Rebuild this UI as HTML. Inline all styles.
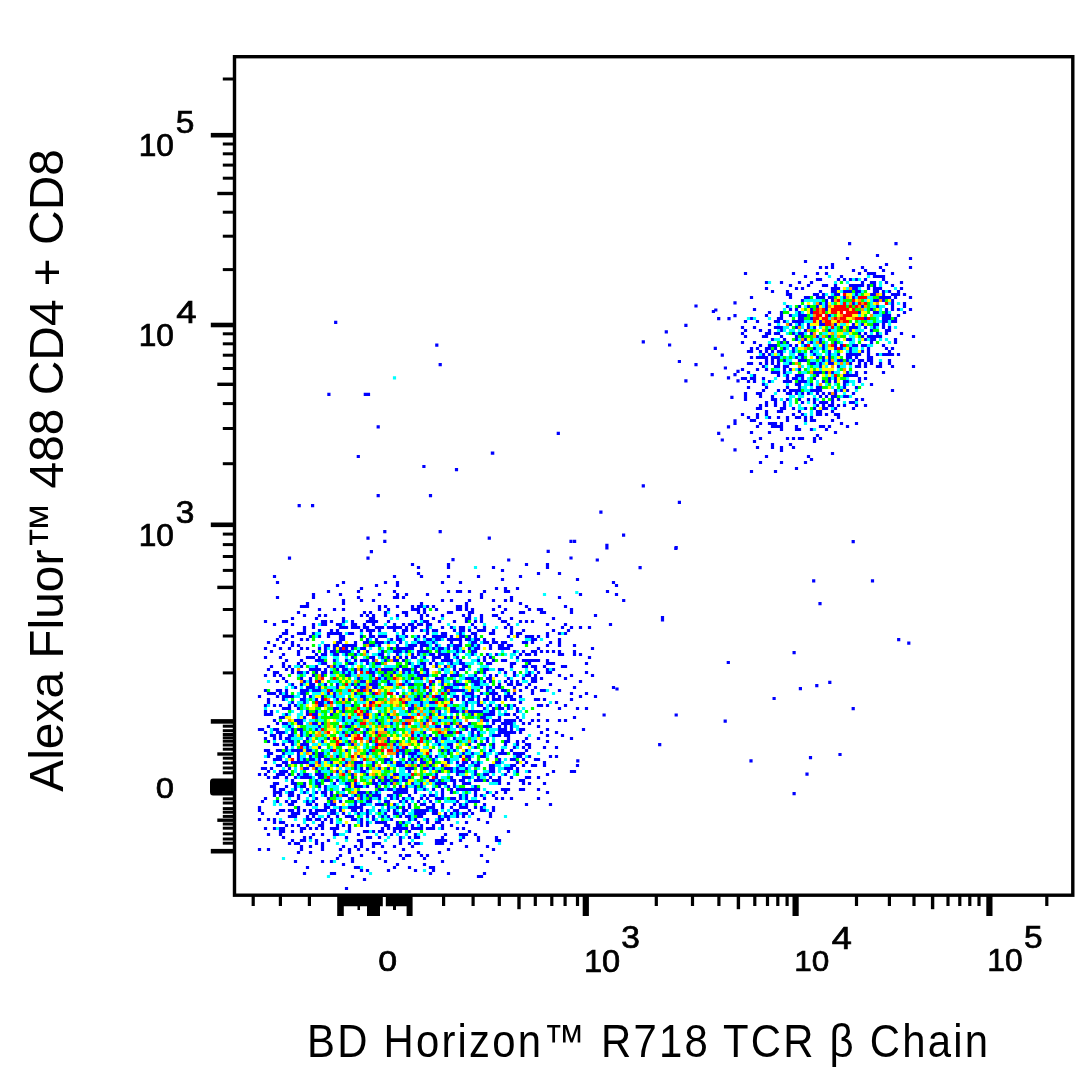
<!DOCTYPE html>
<html><head><meta charset="utf-8"><title>Flow cytometry plot</title>
<style>html,body{margin:0;padding:0;background:#fff;width:1086px;height:1086px;overflow:hidden}svg{display:block}</style>
</head><body>
<svg width="1086" height="1086" viewBox="0 0 1086 1086" font-family="Liberation Sans, Arial, Helvetica, sans-serif" fill="#000">
<g>
<path d="M875.9 255.5h3.2M845.9 258.5h3.2M908.9 258.5h3.2M803.9 261.5h3.2M830.9 264.5h3.2M884.9 264.5h3.2M818.9 267.5h3.2M824.9 267.5h3.2M830.9 267.5h3.2M860.9 267.5h3.2M878.9 267.5h3.2M908.9 267.5h3.2M851.9 270.5h3.2M863.9 270.5h3.2M881.9 270.5h3.2M743.9 273.5h3.2M791.9 273.5h3.2M815.9 273.5h3.2M824.9 273.5h3.2M857.9 273.5h3.2M866.9 273.5h3.2M869.9 273.5h3.2M872.9 273.5h3.2M890.9 273.5h3.2M803.9 276.5h3.2M839.9 276.5h3.2M872.9 276.5h3.2M875.9 276.5h3.2M878.9 276.5h3.2M881.9 276.5h3.2M815.9 279.5h3.2M818.9 279.5h3.2M836.9 279.5h3.2M842.9 279.5h3.2M848.9 279.5h3.2M854.9 279.5h3.2M863.9 279.5h3.2M881.9 279.5h3.2M764.9 282.5h3.2M779.9 282.5h3.2M797.9 282.5h3.2M809.9 282.5h3.2M860.9 282.5h3.2M869.9 282.5h3.2M872.9 282.5h3.2M884.9 282.5h3.2M899.9 282.5h3.2M788.9 285.5h3.2M806.9 285.5h3.2M821.9 285.5h3.2M824.9 285.5h3.2M833.9 285.5h3.2M848.9 285.5h3.2M851.9 285.5h3.2M854.9 285.5h3.2M857.9 285.5h3.2M860.9 285.5h3.2M866.9 285.5h3.2M872.9 285.5h3.2M890.9 285.5h3.2M764.9 288.5h3.2M794.9 288.5h3.2M800.9 288.5h3.2M830.9 288.5h3.2M833.9 288.5h3.2M836.9 288.5h3.2M851.9 288.5h3.2M854.9 288.5h3.2M866.9 288.5h3.2M872.9 288.5h3.2M875.9 288.5h3.2M878.9 288.5h3.2M899.9 288.5h3.2M770.9 291.5h3.2M785.9 291.5h3.2M818.9 291.5h3.2M830.9 291.5h3.2M833.9 291.5h3.2M842.9 291.5h3.2M845.9 291.5h3.2M848.9 291.5h3.2M854.9 291.5h3.2M857.9 291.5h3.2M872.9 291.5h3.2M875.9 291.5h3.2M881.9 291.5h3.2M887.9 291.5h3.2M896.9 291.5h3.2M785.9 294.5h3.2M788.9 294.5h3.2M812.9 294.5h3.2M815.9 294.5h3.2M821.9 294.5h3.2M833.9 294.5h3.2M836.9 294.5h3.2M854.9 294.5h3.2M869.9 294.5h3.2M872.9 294.5h3.2M881.9 294.5h3.2M890.9 294.5h3.2M893.9 294.5h3.2M896.9 294.5h3.2M902.9 294.5h3.2M749.9 297.5h3.2M788.9 297.5h3.2M803.9 297.5h3.2M806.9 297.5h3.2M815.9 297.5h3.2M818.9 297.5h3.2M821.9 297.5h3.2M827.9 297.5h3.2M830.9 297.5h3.2M842.9 297.5h3.2M851.9 297.5h3.2M878.9 297.5h3.2M881.9 297.5h3.2M884.9 297.5h3.2M887.9 297.5h3.2M893.9 297.5h3.2M908.9 297.5h3.2M800.9 300.5h3.2M824.9 300.5h3.2M830.9 300.5h3.2M872.9 300.5h3.2M875.9 300.5h3.2M881.9 300.5h3.2M890.9 300.5h3.2M818.9 303.5h3.2M824.9 303.5h3.2M851.9 303.5h3.2M890.9 303.5h3.2M902.9 303.5h3.2M785.9 306.5h3.2M797.9 306.5h3.2M806.9 306.5h3.2M815.9 306.5h3.2M824.9 306.5h3.2M860.9 306.5h3.2M875.9 306.5h3.2M890.9 306.5h3.2M902.9 306.5h3.2M752.9 309.5h3.2M788.9 309.5h3.2M794.9 309.5h3.2M809.9 309.5h3.2M824.9 309.5h3.2M869.9 309.5h3.2M884.9 309.5h3.2M890.9 309.5h3.2M896.9 309.5h3.2M908.9 309.5h3.2M767.9 312.5h3.2M779.9 312.5h3.2M797.9 312.5h3.2M809.9 312.5h3.2M857.9 312.5h3.2M872.9 312.5h3.2M875.9 312.5h3.2M884.9 312.5h3.2M902.9 312.5h3.2M764.9 315.5h3.2M779.9 315.5h3.2M788.9 315.5h3.2M797.9 315.5h3.2M800.9 315.5h3.2M803.9 315.5h3.2M827.9 315.5h3.2M881.9 315.5h3.2M884.9 315.5h3.2M887.9 315.5h3.2M896.9 315.5h3.2M749.9 318.5h3.2M776.9 318.5h3.2M779.9 318.5h3.2M797.9 318.5h3.2M800.9 318.5h3.2M809.9 318.5h3.2M863.9 318.5h3.2M881.9 318.5h3.2M884.9 318.5h3.2M887.9 318.5h3.2M893.9 318.5h3.2M743.9 321.5h3.2M755.9 321.5h3.2M773.9 321.5h3.2M776.9 321.5h3.2M782.9 321.5h3.2M791.9 321.5h3.2M794.9 321.5h3.2M797.9 321.5h3.2M800.9 321.5h3.2M818.9 321.5h3.2M881.9 321.5h3.2M884.9 321.5h3.2M890.9 321.5h3.2M893.9 321.5h3.2M767.9 324.5h3.2M788.9 324.5h3.2M797.9 324.5h3.2M806.9 324.5h3.2M818.9 324.5h3.2M821.9 324.5h3.2M833.9 324.5h3.2M851.9 324.5h3.2M860.9 324.5h3.2M872.9 324.5h3.2M875.9 324.5h3.2M881.9 324.5h3.2M740.9 327.5h3.2M752.9 327.5h3.2M773.9 327.5h3.2M776.9 327.5h3.2M779.9 327.5h3.2M794.9 327.5h3.2M806.9 327.5h3.2M812.9 327.5h3.2M839.9 327.5h3.2M848.9 327.5h3.2M851.9 327.5h3.2M854.9 327.5h3.2M863.9 327.5h3.2M872.9 327.5h3.2M881.9 327.5h3.2M887.9 327.5h3.2M743.9 330.5h3.2M758.9 330.5h3.2M767.9 330.5h3.2M779.9 330.5h3.2M803.9 330.5h3.2M827.9 330.5h3.2M848.9 330.5h3.2M869.9 330.5h3.2M884.9 330.5h3.2M887.9 330.5h3.2M740.9 333.5h3.2M764.9 333.5h3.2M767.9 333.5h3.2M773.9 333.5h3.2M776.9 333.5h3.2M791.9 333.5h3.2M797.9 333.5h3.2M800.9 333.5h3.2M809.9 333.5h3.2M857.9 333.5h3.2M863.9 333.5h3.2M875.9 333.5h3.2M884.9 333.5h3.2M899.9 333.5h3.2M743.9 336.5h3.2M761.9 336.5h3.2M764.9 336.5h3.2M779.9 336.5h3.2M794.9 336.5h3.2M800.9 336.5h3.2M815.9 336.5h3.2M827.9 336.5h3.2M860.9 336.5h3.2M866.9 336.5h3.2M869.9 336.5h3.2M872.9 336.5h3.2M875.9 336.5h3.2M878.9 336.5h3.2M911.9 336.5h3.2M770.9 339.5h3.2M782.9 339.5h3.2M794.9 339.5h3.2M803.9 339.5h3.2M818.9 339.5h3.2M845.9 339.5h3.2M848.9 339.5h3.2M863.9 339.5h3.2M869.9 339.5h3.2M872.9 339.5h3.2M893.9 339.5h3.2M740.9 342.5h3.2M752.9 342.5h3.2M779.9 342.5h3.2M785.9 342.5h3.2M800.9 342.5h3.2M809.9 342.5h3.2M818.9 342.5h3.2M833.9 342.5h3.2M869.9 342.5h3.2M893.9 342.5h3.2M758.9 345.5h3.2M767.9 345.5h3.2M770.9 345.5h3.2M773.9 345.5h3.2M788.9 345.5h3.2M794.9 345.5h3.2M803.9 345.5h3.2M821.9 345.5h3.2M833.9 345.5h3.2M839.9 345.5h3.2M851.9 345.5h3.2M854.9 345.5h3.2M860.9 345.5h3.2M863.9 345.5h3.2M881.9 345.5h3.2M749.9 348.5h3.2M755.9 348.5h3.2M764.9 348.5h3.2M767.9 348.5h3.2M773.9 348.5h3.2M782.9 348.5h3.2M791.9 348.5h3.2M812.9 348.5h3.2M821.9 348.5h3.2M833.9 348.5h3.2M839.9 348.5h3.2M848.9 348.5h3.2M866.9 348.5h3.2M884.9 348.5h3.2M890.9 348.5h3.2M746.9 351.5h3.2M749.9 351.5h3.2M758.9 351.5h3.2M764.9 351.5h3.2M770.9 351.5h3.2M776.9 351.5h3.2M779.9 351.5h3.2M791.9 351.5h3.2M809.9 351.5h3.2M827.9 351.5h3.2M848.9 351.5h3.2M860.9 351.5h3.2M866.9 351.5h3.2M887.9 351.5h3.2M761.9 354.5h3.2M767.9 354.5h3.2M779.9 354.5h3.2M797.9 354.5h3.2M800.9 354.5h3.2M812.9 354.5h3.2M827.9 354.5h3.2M836.9 354.5h3.2M845.9 354.5h3.2M848.9 354.5h3.2M851.9 354.5h3.2M854.9 354.5h3.2M857.9 354.5h3.2M866.9 354.5h3.2M875.9 354.5h3.2M881.9 354.5h3.2M884.9 354.5h3.2M887.9 354.5h3.2M890.9 354.5h3.2M896.9 354.5h3.2M749.9 357.5h3.2M755.9 357.5h3.2M758.9 357.5h3.2M761.9 357.5h3.2M764.9 357.5h3.2M770.9 357.5h3.2M773.9 357.5h3.2M776.9 357.5h3.2M794.9 357.5h3.2M800.9 357.5h3.2M815.9 357.5h3.2M821.9 357.5h3.2M827.9 357.5h3.2M845.9 357.5h3.2M848.9 357.5h3.2M854.9 357.5h3.2M866.9 357.5h3.2M869.9 357.5h3.2M764.9 360.5h3.2M770.9 360.5h3.2M776.9 360.5h3.2M782.9 360.5h3.2M797.9 360.5h3.2M800.9 360.5h3.2M803.9 360.5h3.2M821.9 360.5h3.2M827.9 360.5h3.2M836.9 360.5h3.2M839.9 360.5h3.2M845.9 360.5h3.2M851.9 360.5h3.2M857.9 360.5h3.2M860.9 360.5h3.2M866.9 360.5h3.2M869.9 360.5h3.2M887.9 360.5h3.2M746.9 363.5h3.2M749.9 363.5h3.2M758.9 363.5h3.2M764.9 363.5h3.2M770.9 363.5h3.2M776.9 363.5h3.2M788.9 363.5h3.2M809.9 363.5h3.2M812.9 363.5h3.2M818.9 363.5h3.2M827.9 363.5h3.2M830.9 363.5h3.2M848.9 363.5h3.2M857.9 363.5h3.2M863.9 363.5h3.2M869.9 363.5h3.2M878.9 363.5h3.2M887.9 363.5h3.2M761.9 366.5h3.2M773.9 366.5h3.2M776.9 366.5h3.2M782.9 366.5h3.2M785.9 366.5h3.2M818.9 366.5h3.2M836.9 366.5h3.2M854.9 366.5h3.2M857.9 366.5h3.2M863.9 366.5h3.2M875.9 366.5h3.2M878.9 366.5h3.2M890.9 366.5h3.2M911.9 366.5h3.2M740.9 369.5h3.2M755.9 369.5h3.2M764.9 369.5h3.2M782.9 369.5h3.2M788.9 369.5h3.2M797.9 369.5h3.2M746.9 372.5h3.2M770.9 372.5h3.2M773.9 372.5h3.2M776.9 372.5h3.2M782.9 372.5h3.2M812.9 372.5h3.2M815.9 372.5h3.2M818.9 372.5h3.2M824.9 372.5h3.2M830.9 372.5h3.2M845.9 372.5h3.2M854.9 372.5h3.2M863.9 372.5h3.2M881.9 372.5h3.2M752.9 375.5h3.2M776.9 375.5h3.2M785.9 375.5h3.2M794.9 375.5h3.2M797.9 375.5h3.2M800.9 375.5h3.2M815.9 375.5h3.2M842.9 375.5h3.2M845.9 375.5h3.2M848.9 375.5h3.2M851.9 375.5h3.2M854.9 375.5h3.2M740.9 378.5h3.2M743.9 378.5h3.2M749.9 378.5h3.2M752.9 378.5h3.2M761.9 378.5h3.2M785.9 378.5h3.2M791.9 378.5h3.2M794.9 378.5h3.2M800.9 378.5h3.2M812.9 378.5h3.2M827.9 378.5h3.2M833.9 378.5h3.2M857.9 378.5h3.2M863.9 378.5h3.2M746.9 381.5h3.2M752.9 381.5h3.2M767.9 381.5h3.2M782.9 381.5h3.2M785.9 381.5h3.2M788.9 381.5h3.2M797.9 381.5h3.2M800.9 381.5h3.2M803.9 381.5h3.2M821.9 381.5h3.2M827.9 381.5h3.2M833.9 381.5h3.2M842.9 381.5h3.2M845.9 381.5h3.2M857.9 381.5h3.2M761.9 384.5h3.2M794.9 384.5h3.2M797.9 384.5h3.2M809.9 384.5h3.2M842.9 384.5h3.2M869.9 384.5h3.2M746.9 387.5h3.2M764.9 387.5h3.2M785.9 387.5h3.2M797.9 387.5h3.2M815.9 387.5h3.2M818.9 387.5h3.2M842.9 387.5h3.2M854.9 387.5h3.2M761.9 390.5h3.2M776.9 390.5h3.2M782.9 390.5h3.2M788.9 390.5h3.2M791.9 390.5h3.2M794.9 390.5h3.2M797.9 390.5h3.2M809.9 390.5h3.2M812.9 390.5h3.2M815.9 390.5h3.2M818.9 390.5h3.2M833.9 390.5h3.2M839.9 390.5h3.2M845.9 390.5h3.2M890.9 390.5h3.2M743.9 393.5h3.2M755.9 393.5h3.2M758.9 393.5h3.2M785.9 393.5h3.2M788.9 393.5h3.2M794.9 393.5h3.2M800.9 393.5h3.2M806.9 393.5h3.2M815.9 393.5h3.2M821.9 393.5h3.2M827.9 393.5h3.2M833.9 393.5h3.2M851.9 393.5h3.2M743.9 396.5h3.2M758.9 396.5h3.2M770.9 396.5h3.2M818.9 396.5h3.2M824.9 396.5h3.2M830.9 396.5h3.2M833.9 396.5h3.2M842.9 396.5h3.2M845.9 396.5h3.2M743.9 399.5h3.2M770.9 399.5h3.2M773.9 399.5h3.2M785.9 399.5h3.2M797.9 399.5h3.2M806.9 399.5h3.2M812.9 399.5h3.2M830.9 399.5h3.2M836.9 399.5h3.2M854.9 399.5h3.2M860.9 399.5h3.2M764.9 402.5h3.2M773.9 402.5h3.2M782.9 402.5h3.2M800.9 402.5h3.2M812.9 402.5h3.2M818.9 402.5h3.2M821.9 402.5h3.2M824.9 402.5h3.2M830.9 402.5h3.2M848.9 402.5h3.2M851.9 402.5h3.2M758.9 405.5h3.2M764.9 405.5h3.2M773.9 405.5h3.2M782.9 405.5h3.2M815.9 405.5h3.2M821.9 405.5h3.2M827.9 405.5h3.2M830.9 405.5h3.2M836.9 405.5h3.2M842.9 405.5h3.2M854.9 405.5h3.2M863.9 405.5h3.2M755.9 408.5h3.2M758.9 408.5h3.2M779.9 408.5h3.2M782.9 408.5h3.2M791.9 408.5h3.2M803.9 408.5h3.2M812.9 408.5h3.2M821.9 408.5h3.2M824.9 408.5h3.2M833.9 408.5h3.2M851.9 408.5h3.2M764.9 411.5h3.2M776.9 411.5h3.2M779.9 411.5h3.2M797.9 411.5h3.2M815.9 411.5h3.2M818.9 411.5h3.2M830.9 411.5h3.2M740.9 414.5h3.2M755.9 414.5h3.2M764.9 414.5h3.2M791.9 414.5h3.2M800.9 414.5h3.2M815.9 414.5h3.2M818.9 414.5h3.2M824.9 414.5h3.2M833.9 414.5h3.2M836.9 414.5h3.2M746.9 417.5h3.2M755.9 417.5h3.2M767.9 417.5h3.2M776.9 417.5h3.2M785.9 417.5h3.2M794.9 417.5h3.2M797.9 417.5h3.2M803.9 417.5h3.2M809.9 417.5h3.2M836.9 417.5h3.2M749.9 420.5h3.2M752.9 420.5h3.2M785.9 420.5h3.2M803.9 420.5h3.2M809.9 420.5h3.2M812.9 420.5h3.2M830.9 420.5h3.2M758.9 423.5h3.2M767.9 423.5h3.2M770.9 423.5h3.2M773.9 423.5h3.2M779.9 423.5h3.2M839.9 423.5h3.2M854.9 423.5h3.2M755.9 426.5h3.2M770.9 426.5h3.2M773.9 426.5h3.2M776.9 426.5h3.2M779.9 426.5h3.2M794.9 426.5h3.2M818.9 426.5h3.2M821.9 426.5h3.2M827.9 426.5h3.2M845.9 426.5h3.2M779.9 429.5h3.2M794.9 429.5h3.2M797.9 429.5h3.2M809.9 429.5h3.2M824.9 429.5h3.2M749.9 432.5h3.2M767.9 432.5h3.2M833.9 432.5h3.2M815.9 435.5h3.2M758.9 438.5h3.2M785.9 438.5h3.2M791.9 438.5h3.2M797.9 438.5h3.2M800.9 438.5h3.2M812.9 438.5h3.2M818.9 438.5h3.2M752.9 441.5h3.2M812.9 441.5h3.2M770.9 444.5h3.2M788.9 444.5h3.2M755.9 447.5h3.2M770.9 447.5h3.2M779.9 447.5h3.2M791.9 447.5h3.2M779.9 450.5h3.2M830.9 453.5h3.2M764.9 456.5h3.2M806.9 456.5h3.2M809.9 459.5h3.2M758.9 462.5h3.2M779.9 462.5h3.2M803.9 462.5h3.2M794.9 468.5h3.2M749.9 471.5h3.2M773.9 471.5h3.2M410.9 564.5h3.2M446.9 564.5h3.2M524.9 564.5h3.2M545.9 564.5h3.2M416.9 567.5h3.2M446.9 567.5h3.2M491.9 567.5h3.2M545.9 567.5h3.2M500.9 570.5h3.2M416.9 573.5h3.2M536.9 573.5h3.2M557.9 573.5h3.2M272.9 576.5h3.2M392.9 576.5h3.2M419.9 576.5h3.2M446.9 576.5h3.2M476.9 576.5h3.2M518.9 576.5h3.2M500.9 579.5h3.2M575.9 579.5h3.2M275.9 582.5h3.2M341.9 582.5h3.2M383.9 582.5h3.2M395.9 582.5h3.2M440.9 582.5h3.2M458.9 582.5h3.2M611.9 582.5h3.2M335.9 585.5h3.2M374.9 585.5h3.2M395.9 585.5h3.2M614.9 585.5h3.2M359.9 588.5h3.2M494.9 588.5h3.2M503.9 588.5h3.2M515.9 588.5h3.2M326.9 591.5h3.2M356.9 591.5h3.2M392.9 591.5h3.2M446.9 591.5h3.2M455.9 591.5h3.2M458.9 591.5h3.2M467.9 591.5h3.2M482.9 591.5h3.2M503.9 591.5h3.2M506.9 591.5h3.2M605.9 591.5h3.2M311.9 594.5h3.2M338.9 594.5h3.2M377.9 594.5h3.2M395.9 594.5h3.2M404.9 594.5h3.2M425.9 594.5h3.2M479.9 594.5h3.2M578.9 594.5h3.2M614.9 594.5h3.2M275.9 597.5h3.2M311.9 597.5h3.2M356.9 597.5h3.2M392.9 597.5h3.2M395.9 597.5h3.2M401.9 597.5h3.2M479.9 597.5h3.2M509.9 597.5h3.2M557.9 597.5h3.2M341.9 600.5h3.2M359.9 600.5h3.2M371.9 600.5h3.2M440.9 600.5h3.2M449.9 600.5h3.2M467.9 600.5h3.2M491.9 600.5h3.2M503.9 600.5h3.2M509.9 600.5h3.2M305.9 603.5h3.2M341.9 603.5h3.2M419.9 603.5h3.2M464.9 603.5h3.2M518.9 603.5h3.2M299.9 606.5h3.2M302.9 606.5h3.2M305.9 606.5h3.2M377.9 606.5h3.2M383.9 606.5h3.2M395.9 606.5h3.2M410.9 606.5h3.2M416.9 606.5h3.2M419.9 606.5h3.2M425.9 606.5h3.2M431.9 606.5h3.2M455.9 606.5h3.2M458.9 606.5h3.2M464.9 606.5h3.2M497.9 606.5h3.2M524.9 606.5h3.2M563.9 606.5h3.2M317.9 609.5h3.2M332.9 609.5h3.2M341.9 609.5h3.2M377.9 609.5h3.2M386.9 609.5h3.2M410.9 609.5h3.2M413.9 609.5h3.2M416.9 609.5h3.2M422.9 609.5h3.2M434.9 609.5h3.2M455.9 609.5h3.2M458.9 609.5h3.2M464.9 609.5h3.2M470.9 609.5h3.2M491.9 609.5h3.2M503.9 609.5h3.2M527.9 609.5h3.2M536.9 609.5h3.2M539.9 609.5h3.2M569.9 609.5h3.2M296.9 612.5h3.2M362.9 612.5h3.2M368.9 612.5h3.2M383.9 612.5h3.2M401.9 612.5h3.2M404.9 612.5h3.2M416.9 612.5h3.2M422.9 612.5h3.2M446.9 612.5h3.2M449.9 612.5h3.2M467.9 612.5h3.2M470.9 612.5h3.2M500.9 612.5h3.2M518.9 612.5h3.2M521.9 612.5h3.2M539.9 612.5h3.2M542.9 612.5h3.2M569.9 612.5h3.2M302.9 615.5h3.2M317.9 615.5h3.2M323.9 615.5h3.2M359.9 615.5h3.2M365.9 615.5h3.2M371.9 615.5h3.2M383.9 615.5h3.2M395.9 615.5h3.2M404.9 615.5h3.2M419.9 615.5h3.2M425.9 615.5h3.2M440.9 615.5h3.2M461.9 615.5h3.2M467.9 615.5h3.2M479.9 615.5h3.2M491.9 615.5h3.2M494.9 615.5h3.2M593.9 615.5h3.2M290.9 618.5h3.2M314.9 618.5h3.2M341.9 618.5h3.2M368.9 618.5h3.2M371.9 618.5h3.2M419.9 618.5h3.2M431.9 618.5h3.2M464.9 618.5h3.2M467.9 618.5h3.2M479.9 618.5h3.2M497.9 618.5h3.2M509.9 618.5h3.2M551.9 618.5h3.2M263.9 621.5h3.2M281.9 621.5h3.2M284.9 621.5h3.2M320.9 621.5h3.2M323.9 621.5h3.2M329.9 621.5h3.2M341.9 621.5h3.2M350.9 621.5h3.2M365.9 621.5h3.2M368.9 621.5h3.2M371.9 621.5h3.2M374.9 621.5h3.2M386.9 621.5h3.2M413.9 621.5h3.2M422.9 621.5h3.2M425.9 621.5h3.2M437.9 621.5h3.2M452.9 621.5h3.2M464.9 621.5h3.2M473.9 621.5h3.2M479.9 621.5h3.2M500.9 621.5h3.2M503.9 621.5h3.2M518.9 621.5h3.2M524.9 621.5h3.2M530.9 621.5h3.2M272.9 624.5h3.2M290.9 624.5h3.2M311.9 624.5h3.2M320.9 624.5h3.2M323.9 624.5h3.2M335.9 624.5h3.2M338.9 624.5h3.2M350.9 624.5h3.2M353.9 624.5h3.2M362.9 624.5h3.2M371.9 624.5h3.2M392.9 624.5h3.2M401.9 624.5h3.2M407.9 624.5h3.2M410.9 624.5h3.2M416.9 624.5h3.2M419.9 624.5h3.2M425.9 624.5h3.2M428.9 624.5h3.2M470.9 624.5h3.2M506.9 624.5h3.2M545.9 624.5h3.2M563.9 624.5h3.2M608.9 624.5h3.2M302.9 627.5h3.2M311.9 627.5h3.2M338.9 627.5h3.2M341.9 627.5h3.2M344.9 627.5h3.2M350.9 627.5h3.2M353.9 627.5h3.2M356.9 627.5h3.2M362.9 627.5h3.2M365.9 627.5h3.2M374.9 627.5h3.2M377.9 627.5h3.2M380.9 627.5h3.2M386.9 627.5h3.2M389.9 627.5h3.2M392.9 627.5h3.2M395.9 627.5h3.2M398.9 627.5h3.2M404.9 627.5h3.2M410.9 627.5h3.2M413.9 627.5h3.2M425.9 627.5h3.2M440.9 627.5h3.2M449.9 627.5h3.2M458.9 627.5h3.2M461.9 627.5h3.2M473.9 627.5h3.2M482.9 627.5h3.2M503.9 627.5h3.2M509.9 627.5h3.2M560.9 627.5h3.2M569.9 627.5h3.2M578.9 627.5h3.2M587.9 627.5h3.2M284.9 630.5h3.2M302.9 630.5h3.2M317.9 630.5h3.2M329.9 630.5h3.2M335.9 630.5h3.2M359.9 630.5h3.2M365.9 630.5h3.2M368.9 630.5h3.2M371.9 630.5h3.2M377.9 630.5h3.2M392.9 630.5h3.2M401.9 630.5h3.2M404.9 630.5h3.2M410.9 630.5h3.2M419.9 630.5h3.2M425.9 630.5h3.2M431.9 630.5h3.2M434.9 630.5h3.2M452.9 630.5h3.2M458.9 630.5h3.2M461.9 630.5h3.2M467.9 630.5h3.2M476.9 630.5h3.2M479.9 630.5h3.2M482.9 630.5h3.2M491.9 630.5h3.2M509.9 630.5h3.2M521.9 630.5h3.2M551.9 630.5h3.2M566.9 630.5h3.2M281.9 633.5h3.2M284.9 633.5h3.2M296.9 633.5h3.2M299.9 633.5h3.2M302.9 633.5h3.2M311.9 633.5h3.2M326.9 633.5h3.2M329.9 633.5h3.2M332.9 633.5h3.2M335.9 633.5h3.2M338.9 633.5h3.2M347.9 633.5h3.2M350.9 633.5h3.2M368.9 633.5h3.2M401.9 633.5h3.2M425.9 633.5h3.2M440.9 633.5h3.2M443.9 633.5h3.2M458.9 633.5h3.2M470.9 633.5h3.2M473.9 633.5h3.2M488.9 633.5h3.2M491.9 633.5h3.2M509.9 633.5h3.2M515.9 633.5h3.2M518.9 633.5h3.2M545.9 633.5h3.2M557.9 633.5h3.2M563.9 633.5h3.2M278.9 636.5h3.2M290.9 636.5h3.2M308.9 636.5h3.2M317.9 636.5h3.2M326.9 636.5h3.2M338.9 636.5h3.2M341.9 636.5h3.2M359.9 636.5h3.2M368.9 636.5h3.2M371.9 636.5h3.2M377.9 636.5h3.2M380.9 636.5h3.2M383.9 636.5h3.2M395.9 636.5h3.2M404.9 636.5h3.2M416.9 636.5h3.2M422.9 636.5h3.2M431.9 636.5h3.2M434.9 636.5h3.2M437.9 636.5h3.2M440.9 636.5h3.2M443.9 636.5h3.2M449.9 636.5h3.2M458.9 636.5h3.2M461.9 636.5h3.2M467.9 636.5h3.2M473.9 636.5h3.2M506.9 636.5h3.2M515.9 636.5h3.2M524.9 636.5h3.2M527.9 636.5h3.2M530.9 636.5h3.2M536.9 636.5h3.2M545.9 636.5h3.2M275.9 639.5h3.2M284.9 639.5h3.2M299.9 639.5h3.2M305.9 639.5h3.2M338.9 639.5h3.2M341.9 639.5h3.2M365.9 639.5h3.2M374.9 639.5h3.2M389.9 639.5h3.2M395.9 639.5h3.2M398.9 639.5h3.2M413.9 639.5h3.2M425.9 639.5h3.2M428.9 639.5h3.2M434.9 639.5h3.2M437.9 639.5h3.2M446.9 639.5h3.2M449.9 639.5h3.2M452.9 639.5h3.2M455.9 639.5h3.2M458.9 639.5h3.2M464.9 639.5h3.2M467.9 639.5h3.2M473.9 639.5h3.2M476.9 639.5h3.2M482.9 639.5h3.2M491.9 639.5h3.2M530.9 639.5h3.2M533.9 639.5h3.2M557.9 639.5h3.2M266.9 642.5h3.2M281.9 642.5h3.2M290.9 642.5h3.2M335.9 642.5h3.2M338.9 642.5h3.2M353.9 642.5h3.2M362.9 642.5h3.2M365.9 642.5h3.2M374.9 642.5h3.2M377.9 642.5h3.2M380.9 642.5h3.2M386.9 642.5h3.2M398.9 642.5h3.2M416.9 642.5h3.2M419.9 642.5h3.2M422.9 642.5h3.2M431.9 642.5h3.2M449.9 642.5h3.2M458.9 642.5h3.2M470.9 642.5h3.2M473.9 642.5h3.2M482.9 642.5h3.2M485.9 642.5h3.2M491.9 642.5h3.2M494.9 642.5h3.2M500.9 642.5h3.2M503.9 642.5h3.2M521.9 642.5h3.2M524.9 642.5h3.2M530.9 642.5h3.2M548.9 642.5h3.2M557.9 642.5h3.2M272.9 645.5h3.2M290.9 645.5h3.2M296.9 645.5h3.2M323.9 645.5h3.2M326.9 645.5h3.2M332.9 645.5h3.2M335.9 645.5h3.2M341.9 645.5h3.2M344.9 645.5h3.2M347.9 645.5h3.2M350.9 645.5h3.2M353.9 645.5h3.2M368.9 645.5h3.2M371.9 645.5h3.2M377.9 645.5h3.2M395.9 645.5h3.2M407.9 645.5h3.2M410.9 645.5h3.2M413.9 645.5h3.2M419.9 645.5h3.2M422.9 645.5h3.2M425.9 645.5h3.2M434.9 645.5h3.2M446.9 645.5h3.2M452.9 645.5h3.2M455.9 645.5h3.2M458.9 645.5h3.2M470.9 645.5h3.2M476.9 645.5h3.2M488.9 645.5h3.2M497.9 645.5h3.2M500.9 645.5h3.2M506.9 645.5h3.2M509.9 645.5h3.2M545.9 645.5h3.2M557.9 645.5h3.2M572.9 645.5h3.2M263.9 648.5h3.2M278.9 648.5h3.2M287.9 648.5h3.2M299.9 648.5h3.2M305.9 648.5h3.2M317.9 648.5h3.2M323.9 648.5h3.2M332.9 648.5h3.2M338.9 648.5h3.2M344.9 648.5h3.2M350.9 648.5h3.2M359.9 648.5h3.2M362.9 648.5h3.2M389.9 648.5h3.2M395.9 648.5h3.2M398.9 648.5h3.2M401.9 648.5h3.2M404.9 648.5h3.2M407.9 648.5h3.2M410.9 648.5h3.2M419.9 648.5h3.2M431.9 648.5h3.2M437.9 648.5h3.2M440.9 648.5h3.2M446.9 648.5h3.2M452.9 648.5h3.2M455.9 648.5h3.2M467.9 648.5h3.2M473.9 648.5h3.2M476.9 648.5h3.2M488.9 648.5h3.2M497.9 648.5h3.2M500.9 648.5h3.2M503.9 648.5h3.2M506.9 648.5h3.2M536.9 648.5h3.2M590.9 648.5h3.2M269.9 651.5h3.2M296.9 651.5h3.2M311.9 651.5h3.2M323.9 651.5h3.2M329.9 651.5h3.2M332.9 651.5h3.2M338.9 651.5h3.2M341.9 651.5h3.2M344.9 651.5h3.2M347.9 651.5h3.2M356.9 651.5h3.2M365.9 651.5h3.2M380.9 651.5h3.2M392.9 651.5h3.2M395.9 651.5h3.2M398.9 651.5h3.2M404.9 651.5h3.2M416.9 651.5h3.2M419.9 651.5h3.2M422.9 651.5h3.2M425.9 651.5h3.2M437.9 651.5h3.2M455.9 651.5h3.2M461.9 651.5h3.2M470.9 651.5h3.2M473.9 651.5h3.2M512.9 651.5h3.2M521.9 651.5h3.2M530.9 651.5h3.2M533.9 651.5h3.2M539.9 651.5h3.2M545.9 651.5h3.2M551.9 651.5h3.2M557.9 651.5h3.2M572.9 651.5h3.2M281.9 654.5h3.2M296.9 654.5h3.2M314.9 654.5h3.2M320.9 654.5h3.2M323.9 654.5h3.2M332.9 654.5h3.2M335.9 654.5h3.2M344.9 654.5h3.2M353.9 654.5h3.2M377.9 654.5h3.2M380.9 654.5h3.2M395.9 654.5h3.2M410.9 654.5h3.2M416.9 654.5h3.2M428.9 654.5h3.2M431.9 654.5h3.2M437.9 654.5h3.2M440.9 654.5h3.2M443.9 654.5h3.2M446.9 654.5h3.2M452.9 654.5h3.2M470.9 654.5h3.2M485.9 654.5h3.2M494.9 654.5h3.2M518.9 654.5h3.2M524.9 654.5h3.2M527.9 654.5h3.2M533.9 654.5h3.2M557.9 654.5h3.2M560.9 654.5h3.2M572.9 654.5h3.2M578.9 654.5h3.2M263.9 657.5h3.2M278.9 657.5h3.2M305.9 657.5h3.2M308.9 657.5h3.2M311.9 657.5h3.2M317.9 657.5h3.2M350.9 657.5h3.2M368.9 657.5h3.2M371.9 657.5h3.2M380.9 657.5h3.2M386.9 657.5h3.2M392.9 657.5h3.2M398.9 657.5h3.2M404.9 657.5h3.2M410.9 657.5h3.2M413.9 657.5h3.2M422.9 657.5h3.2M431.9 657.5h3.2M434.9 657.5h3.2M437.9 657.5h3.2M443.9 657.5h3.2M446.9 657.5h3.2M455.9 657.5h3.2M482.9 657.5h3.2M488.9 657.5h3.2M515.9 657.5h3.2M587.9 657.5h3.2M284.9 660.5h3.2M299.9 660.5h3.2M314.9 660.5h3.2M317.9 660.5h3.2M320.9 660.5h3.2M332.9 660.5h3.2M344.9 660.5h3.2M353.9 660.5h3.2M359.9 660.5h3.2M362.9 660.5h3.2M365.9 660.5h3.2M371.9 660.5h3.2M383.9 660.5h3.2M392.9 660.5h3.2M395.9 660.5h3.2M401.9 660.5h3.2M431.9 660.5h3.2M440.9 660.5h3.2M443.9 660.5h3.2M446.9 660.5h3.2M449.9 660.5h3.2M458.9 660.5h3.2M476.9 660.5h3.2M482.9 660.5h3.2M491.9 660.5h3.2M500.9 660.5h3.2M503.9 660.5h3.2M521.9 660.5h3.2M524.9 660.5h3.2M527.9 660.5h3.2M530.9 660.5h3.2M533.9 660.5h3.2M536.9 660.5h3.2M545.9 660.5h3.2M281.9 663.5h3.2M296.9 663.5h3.2M302.9 663.5h3.2M320.9 663.5h3.2M323.9 663.5h3.2M347.9 663.5h3.2M350.9 663.5h3.2M365.9 663.5h3.2M374.9 663.5h3.2M377.9 663.5h3.2M407.9 663.5h3.2M419.9 663.5h3.2M422.9 663.5h3.2M428.9 663.5h3.2M434.9 663.5h3.2M449.9 663.5h3.2M458.9 663.5h3.2M461.9 663.5h3.2M485.9 663.5h3.2M488.9 663.5h3.2M509.9 663.5h3.2M512.9 663.5h3.2M527.9 663.5h3.2M545.9 663.5h3.2M548.9 663.5h3.2M551.9 663.5h3.2M584.9 663.5h3.2M269.9 666.5h3.2M281.9 666.5h3.2M287.9 666.5h3.2M299.9 666.5h3.2M314.9 666.5h3.2M326.9 666.5h3.2M332.9 666.5h3.2M338.9 666.5h3.2M341.9 666.5h3.2M398.9 666.5h3.2M413.9 666.5h3.2M416.9 666.5h3.2M422.9 666.5h3.2M434.9 666.5h3.2M443.9 666.5h3.2M452.9 666.5h3.2M461.9 666.5h3.2M464.9 666.5h3.2M509.9 666.5h3.2M521.9 666.5h3.2M524.9 666.5h3.2M530.9 666.5h3.2M533.9 666.5h3.2M542.9 666.5h3.2M560.9 666.5h3.2M563.9 666.5h3.2M266.9 669.5h3.2M284.9 669.5h3.2M290.9 669.5h3.2M308.9 669.5h3.2M311.9 669.5h3.2M314.9 669.5h3.2M317.9 669.5h3.2M323.9 669.5h3.2M335.9 669.5h3.2M341.9 669.5h3.2M344.9 669.5h3.2M353.9 669.5h3.2M359.9 669.5h3.2M368.9 669.5h3.2M374.9 669.5h3.2M380.9 669.5h3.2M383.9 669.5h3.2M386.9 669.5h3.2M389.9 669.5h3.2M395.9 669.5h3.2M401.9 669.5h3.2M404.9 669.5h3.2M407.9 669.5h3.2M413.9 669.5h3.2M422.9 669.5h3.2M425.9 669.5h3.2M440.9 669.5h3.2M452.9 669.5h3.2M458.9 669.5h3.2M461.9 669.5h3.2M482.9 669.5h3.2M485.9 669.5h3.2M497.9 669.5h3.2M500.9 669.5h3.2M533.9 669.5h3.2M545.9 669.5h3.2M551.9 669.5h3.2M272.9 672.5h3.2M275.9 672.5h3.2M290.9 672.5h3.2M296.9 672.5h3.2M299.9 672.5h3.2M305.9 672.5h3.2M314.9 672.5h3.2M320.9 672.5h3.2M323.9 672.5h3.2M329.9 672.5h3.2M341.9 672.5h3.2M347.9 672.5h3.2M353.9 672.5h3.2M368.9 672.5h3.2M371.9 672.5h3.2M383.9 672.5h3.2M392.9 672.5h3.2M401.9 672.5h3.2M407.9 672.5h3.2M413.9 672.5h3.2M416.9 672.5h3.2M425.9 672.5h3.2M455.9 672.5h3.2M476.9 672.5h3.2M482.9 672.5h3.2M503.9 672.5h3.2M512.9 672.5h3.2M527.9 672.5h3.2M536.9 672.5h3.2M545.9 672.5h3.2M548.9 672.5h3.2M584.9 672.5h3.2M263.9 675.5h3.2M272.9 675.5h3.2M278.9 675.5h3.2M311.9 675.5h3.2M320.9 675.5h3.2M344.9 675.5h3.2M347.9 675.5h3.2M371.9 675.5h3.2M380.9 675.5h3.2M389.9 675.5h3.2M416.9 675.5h3.2M419.9 675.5h3.2M422.9 675.5h3.2M425.9 675.5h3.2M440.9 675.5h3.2M443.9 675.5h3.2M449.9 675.5h3.2M452.9 675.5h3.2M455.9 675.5h3.2M473.9 675.5h3.2M488.9 675.5h3.2M494.9 675.5h3.2M512.9 675.5h3.2M524.9 675.5h3.2M527.9 675.5h3.2M533.9 675.5h3.2M557.9 675.5h3.2M569.9 675.5h3.2M590.9 675.5h3.2M281.9 678.5h3.2M299.9 678.5h3.2M308.9 678.5h3.2M356.9 678.5h3.2M377.9 678.5h3.2M383.9 678.5h3.2M410.9 678.5h3.2M419.9 678.5h3.2M434.9 678.5h3.2M437.9 678.5h3.2M440.9 678.5h3.2M464.9 678.5h3.2M467.9 678.5h3.2M470.9 678.5h3.2M476.9 678.5h3.2M485.9 678.5h3.2M488.9 678.5h3.2M506.9 678.5h3.2M521.9 678.5h3.2M530.9 678.5h3.2M533.9 678.5h3.2M539.9 678.5h3.2M563.9 678.5h3.2M275.9 681.5h3.2M284.9 681.5h3.2M302.9 681.5h3.2M308.9 681.5h3.2M317.9 681.5h3.2M359.9 681.5h3.2M362.9 681.5h3.2M371.9 681.5h3.2M374.9 681.5h3.2M386.9 681.5h3.2M404.9 681.5h3.2M431.9 681.5h3.2M440.9 681.5h3.2M452.9 681.5h3.2M470.9 681.5h3.2M473.9 681.5h3.2M476.9 681.5h3.2M482.9 681.5h3.2M488.9 681.5h3.2M503.9 681.5h3.2M509.9 681.5h3.2M515.9 681.5h3.2M530.9 681.5h3.2M533.9 681.5h3.2M578.9 681.5h3.2M290.9 684.5h3.2M299.9 684.5h3.2M308.9 684.5h3.2M311.9 684.5h3.2M323.9 684.5h3.2M335.9 684.5h3.2M350.9 684.5h3.2M356.9 684.5h3.2M368.9 684.5h3.2M371.9 684.5h3.2M374.9 684.5h3.2M386.9 684.5h3.2M389.9 684.5h3.2M401.9 684.5h3.2M407.9 684.5h3.2M410.9 684.5h3.2M422.9 684.5h3.2M428.9 684.5h3.2M440.9 684.5h3.2M452.9 684.5h3.2M455.9 684.5h3.2M458.9 684.5h3.2M461.9 684.5h3.2M473.9 684.5h3.2M476.9 684.5h3.2M497.9 684.5h3.2M506.9 684.5h3.2M509.9 684.5h3.2M515.9 684.5h3.2M518.9 684.5h3.2M527.9 684.5h3.2M548.9 684.5h3.2M293.9 687.5h3.2M305.9 687.5h3.2M308.9 687.5h3.2M311.9 687.5h3.2M317.9 687.5h3.2M335.9 687.5h3.2M353.9 687.5h3.2M359.9 687.5h3.2M362.9 687.5h3.2M371.9 687.5h3.2M374.9 687.5h3.2M422.9 687.5h3.2M443.9 687.5h3.2M446.9 687.5h3.2M449.9 687.5h3.2M479.9 687.5h3.2M485.9 687.5h3.2M488.9 687.5h3.2M494.9 687.5h3.2M497.9 687.5h3.2M512.9 687.5h3.2M524.9 687.5h3.2M533.9 687.5h3.2M572.9 687.5h3.2M611.9 687.5h3.2M263.9 690.5h3.2M275.9 690.5h3.2M278.9 690.5h3.2M284.9 690.5h3.2M299.9 690.5h3.2M302.9 690.5h3.2M305.9 690.5h3.2M311.9 690.5h3.2M314.9 690.5h3.2M317.9 690.5h3.2M329.9 690.5h3.2M359.9 690.5h3.2M368.9 690.5h3.2M410.9 690.5h3.2M428.9 690.5h3.2M443.9 690.5h3.2M449.9 690.5h3.2M452.9 690.5h3.2M455.9 690.5h3.2M458.9 690.5h3.2M461.9 690.5h3.2M470.9 690.5h3.2M485.9 690.5h3.2M491.9 690.5h3.2M500.9 690.5h3.2M503.9 690.5h3.2M518.9 690.5h3.2M530.9 690.5h3.2M539.9 690.5h3.2M542.9 690.5h3.2M557.9 690.5h3.2M266.9 693.5h3.2M269.9 693.5h3.2M272.9 693.5h3.2M278.9 693.5h3.2M284.9 693.5h3.2M299.9 693.5h3.2M302.9 693.5h3.2M326.9 693.5h3.2M332.9 693.5h3.2M353.9 693.5h3.2M371.9 693.5h3.2M395.9 693.5h3.2M425.9 693.5h3.2M446.9 693.5h3.2M464.9 693.5h3.2M467.9 693.5h3.2M470.9 693.5h3.2M479.9 693.5h3.2M488.9 693.5h3.2M491.9 693.5h3.2M494.9 693.5h3.2M506.9 693.5h3.2M512.9 693.5h3.2M530.9 693.5h3.2M569.9 693.5h3.2M584.9 693.5h3.2M257.9 696.5h3.2M275.9 696.5h3.2M281.9 696.5h3.2M284.9 696.5h3.2M287.9 696.5h3.2M290.9 696.5h3.2M302.9 696.5h3.2M308.9 696.5h3.2M320.9 696.5h3.2M332.9 696.5h3.2M359.9 696.5h3.2M362.9 696.5h3.2M401.9 696.5h3.2M416.9 696.5h3.2M422.9 696.5h3.2M434.9 696.5h3.2M437.9 696.5h3.2M452.9 696.5h3.2M455.9 696.5h3.2M461.9 696.5h3.2M470.9 696.5h3.2M476.9 696.5h3.2M485.9 696.5h3.2M491.9 696.5h3.2M497.9 696.5h3.2M503.9 696.5h3.2M506.9 696.5h3.2M509.9 696.5h3.2M518.9 696.5h3.2M578.9 696.5h3.2M593.9 696.5h3.2M266.9 699.5h3.2M281.9 699.5h3.2M299.9 699.5h3.2M302.9 699.5h3.2M314.9 699.5h3.2M320.9 699.5h3.2M335.9 699.5h3.2M341.9 699.5h3.2M347.9 699.5h3.2M362.9 699.5h3.2M374.9 699.5h3.2M413.9 699.5h3.2M416.9 699.5h3.2M437.9 699.5h3.2M440.9 699.5h3.2M455.9 699.5h3.2M461.9 699.5h3.2M467.9 699.5h3.2M470.9 699.5h3.2M476.9 699.5h3.2M482.9 699.5h3.2M485.9 699.5h3.2M491.9 699.5h3.2M494.9 699.5h3.2M497.9 699.5h3.2M503.9 699.5h3.2M509.9 699.5h3.2M512.9 699.5h3.2M533.9 699.5h3.2M536.9 699.5h3.2M542.9 699.5h3.2M569.9 699.5h3.2M266.9 702.5h3.2M290.9 702.5h3.2M302.9 702.5h3.2M317.9 702.5h3.2M320.9 702.5h3.2M326.9 702.5h3.2M368.9 702.5h3.2M404.9 702.5h3.2M419.9 702.5h3.2M428.9 702.5h3.2M431.9 702.5h3.2M449.9 702.5h3.2M464.9 702.5h3.2M476.9 702.5h3.2M518.9 702.5h3.2M554.9 702.5h3.2M263.9 705.5h3.2M272.9 705.5h3.2M278.9 705.5h3.2M287.9 705.5h3.2M293.9 705.5h3.2M317.9 705.5h3.2M320.9 705.5h3.2M341.9 705.5h3.2M350.9 705.5h3.2M410.9 705.5h3.2M419.9 705.5h3.2M464.9 705.5h3.2M476.9 705.5h3.2M479.9 705.5h3.2M488.9 705.5h3.2M497.9 705.5h3.2M506.9 705.5h3.2M512.9 705.5h3.2M536.9 705.5h3.2M539.9 705.5h3.2M545.9 705.5h3.2M563.9 705.5h3.2M281.9 708.5h3.2M284.9 708.5h3.2M287.9 708.5h3.2M296.9 708.5h3.2M332.9 708.5h3.2M335.9 708.5h3.2M341.9 708.5h3.2M368.9 708.5h3.2M407.9 708.5h3.2M410.9 708.5h3.2M428.9 708.5h3.2M431.9 708.5h3.2M449.9 708.5h3.2M452.9 708.5h3.2M482.9 708.5h3.2M491.9 708.5h3.2M497.9 708.5h3.2M500.9 708.5h3.2M506.9 708.5h3.2M515.9 708.5h3.2M557.9 708.5h3.2M575.9 708.5h3.2M584.9 708.5h3.2M263.9 711.5h3.2M269.9 711.5h3.2M305.9 711.5h3.2M314.9 711.5h3.2M332.9 711.5h3.2M341.9 711.5h3.2M365.9 711.5h3.2M407.9 711.5h3.2M437.9 711.5h3.2M449.9 711.5h3.2M452.9 711.5h3.2M455.9 711.5h3.2M461.9 711.5h3.2M467.9 711.5h3.2M470.9 711.5h3.2M473.9 711.5h3.2M476.9 711.5h3.2M479.9 711.5h3.2M488.9 711.5h3.2M491.9 711.5h3.2M515.9 711.5h3.2M263.9 714.5h3.2M266.9 714.5h3.2M269.9 714.5h3.2M284.9 714.5h3.2M305.9 714.5h3.2M311.9 714.5h3.2M314.9 714.5h3.2M329.9 714.5h3.2M362.9 714.5h3.2M377.9 714.5h3.2M386.9 714.5h3.2M428.9 714.5h3.2M437.9 714.5h3.2M470.9 714.5h3.2M482.9 714.5h3.2M485.9 714.5h3.2M488.9 714.5h3.2M491.9 714.5h3.2M503.9 714.5h3.2M506.9 714.5h3.2M512.9 714.5h3.2M536.9 714.5h3.2M278.9 717.5h3.2M281.9 717.5h3.2M302.9 717.5h3.2M314.9 717.5h3.2M341.9 717.5h3.2M362.9 717.5h3.2M365.9 717.5h3.2M389.9 717.5h3.2M401.9 717.5h3.2M404.9 717.5h3.2M407.9 717.5h3.2M443.9 717.5h3.2M449.9 717.5h3.2M455.9 717.5h3.2M479.9 717.5h3.2M482.9 717.5h3.2M497.9 717.5h3.2M515.9 717.5h3.2M572.9 717.5h3.2M272.9 720.5h3.2M293.9 720.5h3.2M296.9 720.5h3.2M299.9 720.5h3.2M341.9 720.5h3.2M353.9 720.5h3.2M374.9 720.5h3.2M425.9 720.5h3.2M437.9 720.5h3.2M482.9 720.5h3.2M485.9 720.5h3.2M491.9 720.5h3.2M494.9 720.5h3.2M497.9 720.5h3.2M503.9 720.5h3.2M506.9 720.5h3.2M509.9 720.5h3.2M512.9 720.5h3.2M518.9 720.5h3.2M530.9 720.5h3.2M536.9 720.5h3.2M545.9 720.5h3.2M557.9 720.5h3.2M563.9 720.5h3.2M275.9 723.5h3.2M281.9 723.5h3.2M284.9 723.5h3.2M296.9 723.5h3.2M299.9 723.5h3.2M311.9 723.5h3.2M314.9 723.5h3.2M320.9 723.5h3.2M350.9 723.5h3.2M377.9 723.5h3.2M389.9 723.5h3.2M404.9 723.5h3.2M422.9 723.5h3.2M449.9 723.5h3.2M458.9 723.5h3.2M467.9 723.5h3.2M491.9 723.5h3.2M500.9 723.5h3.2M503.9 723.5h3.2M506.9 723.5h3.2M509.9 723.5h3.2M521.9 723.5h3.2M527.9 723.5h3.2M266.9 726.5h3.2M287.9 726.5h3.2M317.9 726.5h3.2M344.9 726.5h3.2M347.9 726.5h3.2M434.9 726.5h3.2M437.9 726.5h3.2M443.9 726.5h3.2M446.9 726.5h3.2M455.9 726.5h3.2M461.9 726.5h3.2M464.9 726.5h3.2M482.9 726.5h3.2M485.9 726.5h3.2M488.9 726.5h3.2M497.9 726.5h3.2M503.9 726.5h3.2M509.9 726.5h3.2M536.9 726.5h3.2M257.9 729.5h3.2M260.9 729.5h3.2M272.9 729.5h3.2M275.9 729.5h3.2M290.9 729.5h3.2M296.9 729.5h3.2M299.9 729.5h3.2M314.9 729.5h3.2M353.9 729.5h3.2M365.9 729.5h3.2M383.9 729.5h3.2M392.9 729.5h3.2M464.9 729.5h3.2M470.9 729.5h3.2M473.9 729.5h3.2M497.9 729.5h3.2M500.9 729.5h3.2M503.9 729.5h3.2M509.9 729.5h3.2M518.9 729.5h3.2M521.9 729.5h3.2M545.9 729.5h3.2M581.9 729.5h3.2M263.9 732.5h3.2M275.9 732.5h3.2M278.9 732.5h3.2M281.9 732.5h3.2M290.9 732.5h3.2M299.9 732.5h3.2M341.9 732.5h3.2M350.9 732.5h3.2M362.9 732.5h3.2M374.9 732.5h3.2M422.9 732.5h3.2M446.9 732.5h3.2M449.9 732.5h3.2M458.9 732.5h3.2M470.9 732.5h3.2M476.9 732.5h3.2M497.9 732.5h3.2M500.9 732.5h3.2M503.9 732.5h3.2M506.9 732.5h3.2M509.9 732.5h3.2M512.9 732.5h3.2M518.9 732.5h3.2M539.9 732.5h3.2M554.9 732.5h3.2M269.9 735.5h3.2M272.9 735.5h3.2M278.9 735.5h3.2M287.9 735.5h3.2M290.9 735.5h3.2M299.9 735.5h3.2M308.9 735.5h3.2M347.9 735.5h3.2M362.9 735.5h3.2M410.9 735.5h3.2M416.9 735.5h3.2M428.9 735.5h3.2M440.9 735.5h3.2M470.9 735.5h3.2M476.9 735.5h3.2M491.9 735.5h3.2M494.9 735.5h3.2M497.9 735.5h3.2M503.9 735.5h3.2M506.9 735.5h3.2M545.9 735.5h3.2M560.9 735.5h3.2M263.9 738.5h3.2M272.9 738.5h3.2M278.9 738.5h3.2M284.9 738.5h3.2M287.9 738.5h3.2M305.9 738.5h3.2M326.9 738.5h3.2M338.9 738.5h3.2M386.9 738.5h3.2M425.9 738.5h3.2M431.9 738.5h3.2M434.9 738.5h3.2M440.9 738.5h3.2M443.9 738.5h3.2M452.9 738.5h3.2M461.9 738.5h3.2M485.9 738.5h3.2M506.9 738.5h3.2M524.9 738.5h3.2M536.9 738.5h3.2M569.9 738.5h3.2M266.9 741.5h3.2M287.9 741.5h3.2M290.9 741.5h3.2M302.9 741.5h3.2M320.9 741.5h3.2M347.9 741.5h3.2M368.9 741.5h3.2M386.9 741.5h3.2M395.9 741.5h3.2M416.9 741.5h3.2M434.9 741.5h3.2M455.9 741.5h3.2M473.9 741.5h3.2M485.9 741.5h3.2M503.9 741.5h3.2M506.9 741.5h3.2M515.9 741.5h3.2M521.9 741.5h3.2M545.9 741.5h3.2M272.9 744.5h3.2M275.9 744.5h3.2M281.9 744.5h3.2M290.9 744.5h3.2M299.9 744.5h3.2M302.9 744.5h3.2M305.9 744.5h3.2M338.9 744.5h3.2M341.9 744.5h3.2M350.9 744.5h3.2M374.9 744.5h3.2M392.9 744.5h3.2M437.9 744.5h3.2M446.9 744.5h3.2M449.9 744.5h3.2M467.9 744.5h3.2M479.9 744.5h3.2M482.9 744.5h3.2M491.9 744.5h3.2M503.9 744.5h3.2M515.9 744.5h3.2M524.9 744.5h3.2M527.9 744.5h3.2M284.9 747.5h3.2M305.9 747.5h3.2M317.9 747.5h3.2M395.9 747.5h3.2M404.9 747.5h3.2M449.9 747.5h3.2M473.9 747.5h3.2M491.9 747.5h3.2M512.9 747.5h3.2M521.9 747.5h3.2M527.9 747.5h3.2M542.9 747.5h3.2M554.9 747.5h3.2M263.9 750.5h3.2M266.9 750.5h3.2M275.9 750.5h3.2M278.9 750.5h3.2M284.9 750.5h3.2M290.9 750.5h3.2M293.9 750.5h3.2M296.9 750.5h3.2M299.9 750.5h3.2M305.9 750.5h3.2M308.9 750.5h3.2M329.9 750.5h3.2M344.9 750.5h3.2M368.9 750.5h3.2M398.9 750.5h3.2M401.9 750.5h3.2M413.9 750.5h3.2M416.9 750.5h3.2M428.9 750.5h3.2M440.9 750.5h3.2M446.9 750.5h3.2M452.9 750.5h3.2M464.9 750.5h3.2M488.9 750.5h3.2M500.9 750.5h3.2M509.9 750.5h3.2M524.9 750.5h3.2M266.9 753.5h3.2M269.9 753.5h3.2M281.9 753.5h3.2M296.9 753.5h3.2M311.9 753.5h3.2M317.9 753.5h3.2M320.9 753.5h3.2M365.9 753.5h3.2M395.9 753.5h3.2M401.9 753.5h3.2M407.9 753.5h3.2M410.9 753.5h3.2M413.9 753.5h3.2M446.9 753.5h3.2M461.9 753.5h3.2M470.9 753.5h3.2M482.9 753.5h3.2M497.9 753.5h3.2M500.9 753.5h3.2M503.9 753.5h3.2M512.9 753.5h3.2M515.9 753.5h3.2M518.9 753.5h3.2M521.9 753.5h3.2M266.9 756.5h3.2M275.9 756.5h3.2M278.9 756.5h3.2M287.9 756.5h3.2M296.9 756.5h3.2M308.9 756.5h3.2M317.9 756.5h3.2M320.9 756.5h3.2M335.9 756.5h3.2M356.9 756.5h3.2M395.9 756.5h3.2M401.9 756.5h3.2M410.9 756.5h3.2M416.9 756.5h3.2M428.9 756.5h3.2M434.9 756.5h3.2M458.9 756.5h3.2M464.9 756.5h3.2M467.9 756.5h3.2M479.9 756.5h3.2M482.9 756.5h3.2M494.9 756.5h3.2M515.9 756.5h3.2M518.9 756.5h3.2M527.9 756.5h3.2M548.9 756.5h3.2M554.9 756.5h3.2M272.9 759.5h3.2M275.9 759.5h3.2M278.9 759.5h3.2M296.9 759.5h3.2M302.9 759.5h3.2M308.9 759.5h3.2M311.9 759.5h3.2M317.9 759.5h3.2M323.9 759.5h3.2M326.9 759.5h3.2M383.9 759.5h3.2M386.9 759.5h3.2M407.9 759.5h3.2M413.9 759.5h3.2M419.9 759.5h3.2M431.9 759.5h3.2M443.9 759.5h3.2M446.9 759.5h3.2M467.9 759.5h3.2M497.9 759.5h3.2M509.9 759.5h3.2M512.9 759.5h3.2M521.9 759.5h3.2M533.9 759.5h3.2M536.9 759.5h3.2M263.9 762.5h3.2M281.9 762.5h3.2M284.9 762.5h3.2M290.9 762.5h3.2M293.9 762.5h3.2M296.9 762.5h3.2M299.9 762.5h3.2M302.9 762.5h3.2M305.9 762.5h3.2M317.9 762.5h3.2M329.9 762.5h3.2M344.9 762.5h3.2M353.9 762.5h3.2M356.9 762.5h3.2M359.9 762.5h3.2M371.9 762.5h3.2M383.9 762.5h3.2M389.9 762.5h3.2M395.9 762.5h3.2M398.9 762.5h3.2M404.9 762.5h3.2M410.9 762.5h3.2M419.9 762.5h3.2M422.9 762.5h3.2M431.9 762.5h3.2M446.9 762.5h3.2M455.9 762.5h3.2M461.9 762.5h3.2M464.9 762.5h3.2M470.9 762.5h3.2M476.9 762.5h3.2M494.9 762.5h3.2M497.9 762.5h3.2M515.9 762.5h3.2M524.9 762.5h3.2M542.9 762.5h3.2M275.9 765.5h3.2M278.9 765.5h3.2M284.9 765.5h3.2M308.9 765.5h3.2M311.9 765.5h3.2M335.9 765.5h3.2M341.9 765.5h3.2M353.9 765.5h3.2M371.9 765.5h3.2M395.9 765.5h3.2M398.9 765.5h3.2M401.9 765.5h3.2M416.9 765.5h3.2M428.9 765.5h3.2M440.9 765.5h3.2M458.9 765.5h3.2M461.9 765.5h3.2M473.9 765.5h3.2M476.9 765.5h3.2M488.9 765.5h3.2M491.9 765.5h3.2M509.9 765.5h3.2M512.9 765.5h3.2M521.9 765.5h3.2M530.9 765.5h3.2M533.9 765.5h3.2M542.9 765.5h3.2M575.9 765.5h3.2M260.9 768.5h3.2M263.9 768.5h3.2M269.9 768.5h3.2M287.9 768.5h3.2M302.9 768.5h3.2M305.9 768.5h3.2M314.9 768.5h3.2M326.9 768.5h3.2M353.9 768.5h3.2M359.9 768.5h3.2M365.9 768.5h3.2M377.9 768.5h3.2M386.9 768.5h3.2M404.9 768.5h3.2M407.9 768.5h3.2M410.9 768.5h3.2M422.9 768.5h3.2M425.9 768.5h3.2M431.9 768.5h3.2M443.9 768.5h3.2M446.9 768.5h3.2M449.9 768.5h3.2M455.9 768.5h3.2M464.9 768.5h3.2M488.9 768.5h3.2M491.9 768.5h3.2M503.9 768.5h3.2M506.9 768.5h3.2M509.9 768.5h3.2M515.9 768.5h3.2M266.9 771.5h3.2M278.9 771.5h3.2M281.9 771.5h3.2M284.9 771.5h3.2M317.9 771.5h3.2M335.9 771.5h3.2M344.9 771.5h3.2M359.9 771.5h3.2M362.9 771.5h3.2M407.9 771.5h3.2M437.9 771.5h3.2M449.9 771.5h3.2M455.9 771.5h3.2M458.9 771.5h3.2M461.9 771.5h3.2M473.9 771.5h3.2M488.9 771.5h3.2M491.9 771.5h3.2M506.9 771.5h3.2M515.9 771.5h3.2M527.9 771.5h3.2M551.9 771.5h3.2M569.9 771.5h3.2M572.9 771.5h3.2M257.9 774.5h3.2M263.9 774.5h3.2M275.9 774.5h3.2M278.9 774.5h3.2M281.9 774.5h3.2M287.9 774.5h3.2M296.9 774.5h3.2M302.9 774.5h3.2M305.9 774.5h3.2M314.9 774.5h3.2M317.9 774.5h3.2M320.9 774.5h3.2M329.9 774.5h3.2M350.9 774.5h3.2M365.9 774.5h3.2M392.9 774.5h3.2M395.9 774.5h3.2M434.9 774.5h3.2M455.9 774.5h3.2M473.9 774.5h3.2M482.9 774.5h3.2M485.9 774.5h3.2M503.9 774.5h3.2M545.9 774.5h3.2M266.9 777.5h3.2M272.9 777.5h3.2M275.9 777.5h3.2M284.9 777.5h3.2M293.9 777.5h3.2M299.9 777.5h3.2M302.9 777.5h3.2M305.9 777.5h3.2M308.9 777.5h3.2M317.9 777.5h3.2M320.9 777.5h3.2M350.9 777.5h3.2M374.9 777.5h3.2M383.9 777.5h3.2M389.9 777.5h3.2M401.9 777.5h3.2M407.9 777.5h3.2M422.9 777.5h3.2M425.9 777.5h3.2M434.9 777.5h3.2M449.9 777.5h3.2M461.9 777.5h3.2M464.9 777.5h3.2M467.9 777.5h3.2M476.9 777.5h3.2M488.9 777.5h3.2M497.9 777.5h3.2M509.9 777.5h3.2M524.9 777.5h3.2M527.9 777.5h3.2M536.9 777.5h3.2M290.9 780.5h3.2M314.9 780.5h3.2M323.9 780.5h3.2M326.9 780.5h3.2M335.9 780.5h3.2M371.9 780.5h3.2M377.9 780.5h3.2M383.9 780.5h3.2M386.9 780.5h3.2M392.9 780.5h3.2M395.9 780.5h3.2M401.9 780.5h3.2M404.9 780.5h3.2M428.9 780.5h3.2M431.9 780.5h3.2M437.9 780.5h3.2M449.9 780.5h3.2M452.9 780.5h3.2M458.9 780.5h3.2M461.9 780.5h3.2M473.9 780.5h3.2M476.9 780.5h3.2M479.9 780.5h3.2M485.9 780.5h3.2M491.9 780.5h3.2M494.9 780.5h3.2M497.9 780.5h3.2M518.9 780.5h3.2M521.9 780.5h3.2M272.9 783.5h3.2M275.9 783.5h3.2M290.9 783.5h3.2M293.9 783.5h3.2M302.9 783.5h3.2M314.9 783.5h3.2M317.9 783.5h3.2M332.9 783.5h3.2M344.9 783.5h3.2M347.9 783.5h3.2M353.9 783.5h3.2M371.9 783.5h3.2M374.9 783.5h3.2M380.9 783.5h3.2M383.9 783.5h3.2M389.9 783.5h3.2M410.9 783.5h3.2M419.9 783.5h3.2M434.9 783.5h3.2M437.9 783.5h3.2M440.9 783.5h3.2M443.9 783.5h3.2M452.9 783.5h3.2M461.9 783.5h3.2M464.9 783.5h3.2M467.9 783.5h3.2M497.9 783.5h3.2M506.9 783.5h3.2M521.9 783.5h3.2M527.9 783.5h3.2M542.9 783.5h3.2M269.9 786.5h3.2M272.9 786.5h3.2M284.9 786.5h3.2M293.9 786.5h3.2M299.9 786.5h3.2M302.9 786.5h3.2M317.9 786.5h3.2M323.9 786.5h3.2M347.9 786.5h3.2M353.9 786.5h3.2M356.9 786.5h3.2M359.9 786.5h3.2M365.9 786.5h3.2M374.9 786.5h3.2M398.9 786.5h3.2M404.9 786.5h3.2M413.9 786.5h3.2M419.9 786.5h3.2M437.9 786.5h3.2M446.9 786.5h3.2M452.9 786.5h3.2M473.9 786.5h3.2M272.9 789.5h3.2M278.9 789.5h3.2M281.9 789.5h3.2M293.9 789.5h3.2M305.9 789.5h3.2M323.9 789.5h3.2M341.9 789.5h3.2M377.9 789.5h3.2M380.9 789.5h3.2M386.9 789.5h3.2M389.9 789.5h3.2M395.9 789.5h3.2M398.9 789.5h3.2M401.9 789.5h3.2M404.9 789.5h3.2M413.9 789.5h3.2M422.9 789.5h3.2M431.9 789.5h3.2M440.9 789.5h3.2M449.9 789.5h3.2M455.9 789.5h3.2M458.9 789.5h3.2M461.9 789.5h3.2M464.9 789.5h3.2M467.9 789.5h3.2M470.9 789.5h3.2M473.9 789.5h3.2M476.9 789.5h3.2M500.9 789.5h3.2M503.9 789.5h3.2M506.9 789.5h3.2M518.9 789.5h3.2M521.9 789.5h3.2M536.9 789.5h3.2M272.9 792.5h3.2M275.9 792.5h3.2M278.9 792.5h3.2M287.9 792.5h3.2M290.9 792.5h3.2M302.9 792.5h3.2M314.9 792.5h3.2M320.9 792.5h3.2M323.9 792.5h3.2M329.9 792.5h3.2M356.9 792.5h3.2M359.9 792.5h3.2M362.9 792.5h3.2M368.9 792.5h3.2M374.9 792.5h3.2M392.9 792.5h3.2M395.9 792.5h3.2M398.9 792.5h3.2M401.9 792.5h3.2M404.9 792.5h3.2M413.9 792.5h3.2M440.9 792.5h3.2M449.9 792.5h3.2M473.9 792.5h3.2M485.9 792.5h3.2M494.9 792.5h3.2M503.9 792.5h3.2M545.9 792.5h3.2M272.9 795.5h3.2M278.9 795.5h3.2M287.9 795.5h3.2M290.9 795.5h3.2M296.9 795.5h3.2M308.9 795.5h3.2M323.9 795.5h3.2M329.9 795.5h3.2M335.9 795.5h3.2M341.9 795.5h3.2M344.9 795.5h3.2M353.9 795.5h3.2M359.9 795.5h3.2M365.9 795.5h3.2M371.9 795.5h3.2M374.9 795.5h3.2M377.9 795.5h3.2M386.9 795.5h3.2M389.9 795.5h3.2M395.9 795.5h3.2M407.9 795.5h3.2M422.9 795.5h3.2M428.9 795.5h3.2M431.9 795.5h3.2M440.9 795.5h3.2M458.9 795.5h3.2M464.9 795.5h3.2M473.9 795.5h3.2M479.9 795.5h3.2M491.9 795.5h3.2M263.9 798.5h3.2M296.9 798.5h3.2M314.9 798.5h3.2M326.9 798.5h3.2M347.9 798.5h3.2M350.9 798.5h3.2M359.9 798.5h3.2M368.9 798.5h3.2M377.9 798.5h3.2M389.9 798.5h3.2M395.9 798.5h3.2M401.9 798.5h3.2M410.9 798.5h3.2M419.9 798.5h3.2M425.9 798.5h3.2M434.9 798.5h3.2M437.9 798.5h3.2M440.9 798.5h3.2M449.9 798.5h3.2M452.9 798.5h3.2M458.9 798.5h3.2M464.9 798.5h3.2M482.9 798.5h3.2M494.9 798.5h3.2M500.9 798.5h3.2M509.9 798.5h3.2M536.9 798.5h3.2M260.9 801.5h3.2M275.9 801.5h3.2M284.9 801.5h3.2M290.9 801.5h3.2M293.9 801.5h3.2M305.9 801.5h3.2M311.9 801.5h3.2M329.9 801.5h3.2M338.9 801.5h3.2M353.9 801.5h3.2M365.9 801.5h3.2M368.9 801.5h3.2M383.9 801.5h3.2M386.9 801.5h3.2M398.9 801.5h3.2M404.9 801.5h3.2M416.9 801.5h3.2M428.9 801.5h3.2M455.9 801.5h3.2M467.9 801.5h3.2M470.9 801.5h3.2M473.9 801.5h3.2M476.9 801.5h3.2M287.9 804.5h3.2M290.9 804.5h3.2M305.9 804.5h3.2M308.9 804.5h3.2M314.9 804.5h3.2M323.9 804.5h3.2M329.9 804.5h3.2M332.9 804.5h3.2M353.9 804.5h3.2M359.9 804.5h3.2M362.9 804.5h3.2M374.9 804.5h3.2M377.9 804.5h3.2M380.9 804.5h3.2M386.9 804.5h3.2M392.9 804.5h3.2M407.9 804.5h3.2M419.9 804.5h3.2M422.9 804.5h3.2M431.9 804.5h3.2M440.9 804.5h3.2M452.9 804.5h3.2M458.9 804.5h3.2M464.9 804.5h3.2M482.9 804.5h3.2M524.9 804.5h3.2M548.9 804.5h3.2M257.9 807.5h3.2M296.9 807.5h3.2M323.9 807.5h3.2M326.9 807.5h3.2M338.9 807.5h3.2M347.9 807.5h3.2M350.9 807.5h3.2M353.9 807.5h3.2M356.9 807.5h3.2M359.9 807.5h3.2M386.9 807.5h3.2M395.9 807.5h3.2M401.9 807.5h3.2M407.9 807.5h3.2M425.9 807.5h3.2M428.9 807.5h3.2M431.9 807.5h3.2M440.9 807.5h3.2M449.9 807.5h3.2M458.9 807.5h3.2M461.9 807.5h3.2M464.9 807.5h3.2M473.9 807.5h3.2M479.9 807.5h3.2M491.9 807.5h3.2M257.9 810.5h3.2M278.9 810.5h3.2M281.9 810.5h3.2M287.9 810.5h3.2M290.9 810.5h3.2M296.9 810.5h3.2M302.9 810.5h3.2M308.9 810.5h3.2M314.9 810.5h3.2M317.9 810.5h3.2M320.9 810.5h3.2M323.9 810.5h3.2M329.9 810.5h3.2M332.9 810.5h3.2M338.9 810.5h3.2M350.9 810.5h3.2M353.9 810.5h3.2M359.9 810.5h3.2M365.9 810.5h3.2M377.9 810.5h3.2M386.9 810.5h3.2M392.9 810.5h3.2M401.9 810.5h3.2M404.9 810.5h3.2M413.9 810.5h3.2M416.9 810.5h3.2M419.9 810.5h3.2M422.9 810.5h3.2M425.9 810.5h3.2M431.9 810.5h3.2M434.9 810.5h3.2M452.9 810.5h3.2M455.9 810.5h3.2M467.9 810.5h3.2M479.9 810.5h3.2M482.9 810.5h3.2M491.9 810.5h3.2M260.9 813.5h3.2M275.9 813.5h3.2M290.9 813.5h3.2M293.9 813.5h3.2M296.9 813.5h3.2M308.9 813.5h3.2M311.9 813.5h3.2M314.9 813.5h3.2M329.9 813.5h3.2M332.9 813.5h3.2M341.9 813.5h3.2M356.9 813.5h3.2M365.9 813.5h3.2M383.9 813.5h3.2M392.9 813.5h3.2M395.9 813.5h3.2M401.9 813.5h3.2M413.9 813.5h3.2M416.9 813.5h3.2M419.9 813.5h3.2M422.9 813.5h3.2M431.9 813.5h3.2M434.9 813.5h3.2M443.9 813.5h3.2M449.9 813.5h3.2M455.9 813.5h3.2M461.9 813.5h3.2M464.9 813.5h3.2M470.9 813.5h3.2M488.9 813.5h3.2M287.9 816.5h3.2M290.9 816.5h3.2M293.9 816.5h3.2M305.9 816.5h3.2M311.9 816.5h3.2M326.9 816.5h3.2M335.9 816.5h3.2M344.9 816.5h3.2M347.9 816.5h3.2M350.9 816.5h3.2M365.9 816.5h3.2M371.9 816.5h3.2M380.9 816.5h3.2M386.9 816.5h3.2M398.9 816.5h3.2M404.9 816.5h3.2M407.9 816.5h3.2M416.9 816.5h3.2M419.9 816.5h3.2M437.9 816.5h3.2M443.9 816.5h3.2M446.9 816.5h3.2M455.9 816.5h3.2M461.9 816.5h3.2M488.9 816.5h3.2M257.9 819.5h3.2M266.9 819.5h3.2M272.9 819.5h3.2M305.9 819.5h3.2M308.9 819.5h3.2M314.9 819.5h3.2M317.9 819.5h3.2M323.9 819.5h3.2M329.9 819.5h3.2M350.9 819.5h3.2M353.9 819.5h3.2M359.9 819.5h3.2M371.9 819.5h3.2M389.9 819.5h3.2M407.9 819.5h3.2M413.9 819.5h3.2M425.9 819.5h3.2M437.9 819.5h3.2M440.9 819.5h3.2M446.9 819.5h3.2M476.9 819.5h3.2M272.9 822.5h3.2M278.9 822.5h3.2M281.9 822.5h3.2M320.9 822.5h3.2M329.9 822.5h3.2M359.9 822.5h3.2M365.9 822.5h3.2M374.9 822.5h3.2M377.9 822.5h3.2M380.9 822.5h3.2M383.9 822.5h3.2M395.9 822.5h3.2M401.9 822.5h3.2M416.9 822.5h3.2M425.9 822.5h3.2M434.9 822.5h3.2M437.9 822.5h3.2M464.9 822.5h3.2M485.9 822.5h3.2M284.9 825.5h3.2M290.9 825.5h3.2M296.9 825.5h3.2M305.9 825.5h3.2M317.9 825.5h3.2M320.9 825.5h3.2M335.9 825.5h3.2M341.9 825.5h3.2M347.9 825.5h3.2M359.9 825.5h3.2M365.9 825.5h3.2M383.9 825.5h3.2M386.9 825.5h3.2M395.9 825.5h3.2M398.9 825.5h3.2M410.9 825.5h3.2M419.9 825.5h3.2M431.9 825.5h3.2M440.9 825.5h3.2M449.9 825.5h3.2M263.9 828.5h3.2M272.9 828.5h3.2M278.9 828.5h3.2M281.9 828.5h3.2M299.9 828.5h3.2M302.9 828.5h3.2M308.9 828.5h3.2M314.9 828.5h3.2M320.9 828.5h3.2M329.9 828.5h3.2M332.9 828.5h3.2M335.9 828.5h3.2M347.9 828.5h3.2M380.9 828.5h3.2M386.9 828.5h3.2M392.9 828.5h3.2M395.9 828.5h3.2M398.9 828.5h3.2M401.9 828.5h3.2M404.9 828.5h3.2M410.9 828.5h3.2M413.9 828.5h3.2M416.9 828.5h3.2M419.9 828.5h3.2M425.9 828.5h3.2M428.9 828.5h3.2M431.9 828.5h3.2M440.9 828.5h3.2M455.9 828.5h3.2M461.9 828.5h3.2M278.9 831.5h3.2M281.9 831.5h3.2M290.9 831.5h3.2M299.9 831.5h3.2M332.9 831.5h3.2M347.9 831.5h3.2M362.9 831.5h3.2M365.9 831.5h3.2M371.9 831.5h3.2M377.9 831.5h3.2M380.9 831.5h3.2M392.9 831.5h3.2M398.9 831.5h3.2M407.9 831.5h3.2M467.9 831.5h3.2M506.9 831.5h3.2M266.9 834.5h3.2M278.9 834.5h3.2M311.9 834.5h3.2M320.9 834.5h3.2M332.9 834.5h3.2M335.9 834.5h3.2M356.9 834.5h3.2M383.9 834.5h3.2M389.9 834.5h3.2M413.9 834.5h3.2M443.9 834.5h3.2M458.9 834.5h3.2M461.9 834.5h3.2M464.9 834.5h3.2M473.9 834.5h3.2M281.9 837.5h3.2M302.9 837.5h3.2M308.9 837.5h3.2M344.9 837.5h3.2M365.9 837.5h3.2M368.9 837.5h3.2M377.9 837.5h3.2M398.9 837.5h3.2M407.9 837.5h3.2M413.9 837.5h3.2M416.9 837.5h3.2M440.9 837.5h3.2M461.9 837.5h3.2M476.9 837.5h3.2M494.9 837.5h3.2M290.9 840.5h3.2M299.9 840.5h3.2M302.9 840.5h3.2M314.9 840.5h3.2M326.9 840.5h3.2M356.9 840.5h3.2M359.9 840.5h3.2M398.9 840.5h3.2M434.9 840.5h3.2M437.9 840.5h3.2M440.9 840.5h3.2M443.9 840.5h3.2M458.9 840.5h3.2M476.9 840.5h3.2M494.9 840.5h3.2M497.9 840.5h3.2M287.9 843.5h3.2M293.9 843.5h3.2M296.9 843.5h3.2M314.9 843.5h3.2M320.9 843.5h3.2M359.9 843.5h3.2M371.9 843.5h3.2M374.9 843.5h3.2M377.9 843.5h3.2M398.9 843.5h3.2M407.9 843.5h3.2M413.9 843.5h3.2M416.9 843.5h3.2M434.9 843.5h3.2M437.9 843.5h3.2M440.9 843.5h3.2M449.9 843.5h3.2M299.9 846.5h3.2M308.9 846.5h3.2M320.9 846.5h3.2M341.9 846.5h3.2M353.9 846.5h3.2M359.9 846.5h3.2M371.9 846.5h3.2M380.9 846.5h3.2M392.9 846.5h3.2M410.9 846.5h3.2M464.9 846.5h3.2M485.9 846.5h3.2M257.9 849.5h3.2M266.9 849.5h3.2M299.9 849.5h3.2M320.9 849.5h3.2M338.9 849.5h3.2M347.9 849.5h3.2M356.9 849.5h3.2M365.9 849.5h3.2M401.9 849.5h3.2M446.9 849.5h3.2M491.9 849.5h3.2M296.9 852.5h3.2M308.9 852.5h3.2M347.9 852.5h3.2M371.9 852.5h3.2M383.9 852.5h3.2M416.9 852.5h3.2M437.9 852.5h3.2M338.9 855.5h3.2M359.9 855.5h3.2M398.9 855.5h3.2M404.9 855.5h3.2M407.9 855.5h3.2M419.9 855.5h3.2M425.9 855.5h3.2M479.9 855.5h3.2M335.9 858.5h3.2M350.9 858.5h3.2M377.9 858.5h3.2M401.9 858.5h3.2M422.9 858.5h3.2M293.9 861.5h3.2M320.9 861.5h3.2M329.9 861.5h3.2M350.9 861.5h3.2M383.9 861.5h3.2M440.9 861.5h3.2M485.9 861.5h3.2M341.9 864.5h3.2M395.9 864.5h3.2M422.9 864.5h3.2M305.9 867.5h3.2M353.9 867.5h3.2M356.9 867.5h3.2M392.9 867.5h3.2M407.9 867.5h3.2M428.9 867.5h3.2M431.9 867.5h3.2M359.9 870.5h3.2M365.9 870.5h3.2M386.9 870.5h3.2M413.9 870.5h3.2M431.9 870.5h3.2M302.9 873.5h3.2M329.9 873.5h3.2M332.9 873.5h3.2M428.9 873.5h3.2M446.9 873.5h3.2M482.9 873.5h3.2M350.9 876.5h3.2M476.9 876.5h3.2M479.9 876.5h3.2M362.9 879.5h3.2M344.9 888.5h3.2M334.1 322.4h3.2M435.2 345.2h3.2M438.6 364.7h3.2M327.3 394.3h3.2M363.7 394.3h3.2M366.9 394.3h3.2M376.6 426.9h3.2M356.7 456.5h3.2M490.8 453.1h3.2M422.3 466.5h3.2M454.9 469.7h3.2M376.6 495.7h3.2M428.9 495.7h3.2M297.6 505.6h3.2M311.0 505.6h3.2M383.2 531.6h3.2M438.6 531.6h3.2M366.4 538.2h3.2M383.2 541.4h3.2M487.7 538.2h3.2M369.8 551.6h3.2M287.9 558.1h3.2M366.4 558.1h3.2M451.4 559.6h3.2M694.4 306.0h3.2M711.8 311.5h3.2M714.2 310.0h3.2M717.1 318.7h3.2M727.4 318.7h3.2M733.4 302.9h3.2M733.4 315.6h3.2M684.3 325.4h3.2M664.7 331.8h3.2M641.7 341.9h3.2M668.0 345.0h3.2M713.7 348.4h3.2M720.7 355.1h3.2M677.8 361.5h3.2M694.4 364.6h3.2M723.8 368.0h3.2M710.6 374.7h3.2M726.9 377.8h3.2M733.4 374.7h3.2M736.4 371.3h3.2M736.4 380.9h3.2M684.3 380.9h3.2M730.3 397.4h3.2M733.4 420.9h3.2M733.4 423.3h3.2M726.9 426.9h3.2M717.1 433.3h3.2M720.7 440.0h3.2M733.4 449.9h3.2M556.7 433.3h3.2M491.1 453.2h3.2M641.7 485.8h3.2M677.8 502.3h3.2M599.3 512.1h3.2M622.0 535.1h3.2M569.4 541.3h3.2M573.0 541.3h3.2M605.3 545.4h3.2M605.3 547.8h3.2M546.6 551.4h3.2M674.2 548.3h3.2M569.4 558.0h3.2M507.1 560.0h3.2M595.7 560.0h3.2M674.6 547.7h3.2M851.6 541.7h3.2M812.1 580.9h3.2M870.9 580.9h3.2M818.4 603.7h3.2M660.9 617.7h3.2M660.9 619.8h3.2M897.1 639.7h3.2M907.2 643.2h3.2M792.5 652.7h3.2M726.7 662.5h3.2M772.5 698.5h3.2M798.8 688.7h3.2M815.2 685.6h3.2M828.2 682.4h3.2M851.6 708.7h3.2M723.6 721.2h3.2M674.6 715.0h3.2M658.1 744.7h3.2M749.4 760.8h3.2M808.9 757.6h3.2M838.4 754.5h3.2M805.4 774.1h3.2M792.5 793.7h3.2M638.5 567.6h3.2M622.1 600.5h3.2M615.4 689.0h3.2M602.5 715.0h3.2M576.2 760.8h3.2M848.0 243.7h3.2M894.4 243.7h3.2" stroke="#0000ff" stroke-width="3.2"/>
<path d="M827.9 276.5h3.2M866.9 276.5h3.2M851.9 279.5h3.2M857.9 279.5h3.2M767.9 282.5h3.2M833.9 282.5h3.2M845.9 282.5h3.2M878.9 282.5h3.2M878.9 285.5h3.2M845.9 288.5h3.2M857.9 288.5h3.2M893.9 288.5h3.2M839.9 291.5h3.2M860.9 291.5h3.2M884.9 291.5h3.2M824.9 294.5h3.2M830.9 294.5h3.2M851.9 294.5h3.2M857.9 294.5h3.2M839.9 297.5h3.2M854.9 297.5h3.2M866.9 297.5h3.2M869.9 297.5h3.2M803.9 300.5h3.2M806.9 300.5h3.2M809.9 300.5h3.2M812.9 300.5h3.2M815.9 300.5h3.2M818.9 300.5h3.2M839.9 300.5h3.2M863.9 300.5h3.2M869.9 300.5h3.2M782.9 303.5h3.2M812.9 303.5h3.2M821.9 303.5h3.2M830.9 303.5h3.2M839.9 303.5h3.2M845.9 303.5h3.2M854.9 303.5h3.2M869.9 303.5h3.2M887.9 303.5h3.2M896.9 303.5h3.2M788.9 306.5h3.2M803.9 306.5h3.2M821.9 306.5h3.2M869.9 306.5h3.2M872.9 306.5h3.2M878.9 306.5h3.2M881.9 306.5h3.2M782.9 309.5h3.2M863.9 309.5h3.2M878.9 309.5h3.2M899.9 309.5h3.2M794.9 312.5h3.2M800.9 312.5h3.2M878.9 312.5h3.2M887.9 312.5h3.2M791.9 315.5h3.2M794.9 315.5h3.2M809.9 315.5h3.2M830.9 315.5h3.2M857.9 315.5h3.2M872.9 315.5h3.2M875.9 315.5h3.2M878.9 315.5h3.2M746.9 318.5h3.2M752.9 318.5h3.2M767.9 318.5h3.2M827.9 318.5h3.2M875.9 318.5h3.2M785.9 321.5h3.2M803.9 321.5h3.2M806.9 321.5h3.2M809.9 321.5h3.2M857.9 321.5h3.2M866.9 321.5h3.2M869.9 321.5h3.2M875.9 321.5h3.2M878.9 321.5h3.2M887.9 321.5h3.2M776.9 324.5h3.2M794.9 324.5h3.2M800.9 324.5h3.2M839.9 324.5h3.2M842.9 324.5h3.2M857.9 324.5h3.2M887.9 324.5h3.2M782.9 327.5h3.2M785.9 327.5h3.2M800.9 327.5h3.2M809.9 327.5h3.2M818.9 327.5h3.2M827.9 327.5h3.2M833.9 327.5h3.2M857.9 327.5h3.2M869.9 327.5h3.2M875.9 327.5h3.2M893.9 327.5h3.2M776.9 330.5h3.2M782.9 330.5h3.2M788.9 330.5h3.2M791.9 330.5h3.2M797.9 330.5h3.2M830.9 330.5h3.2M833.9 330.5h3.2M854.9 330.5h3.2M857.9 330.5h3.2M860.9 330.5h3.2M785.9 333.5h3.2M794.9 333.5h3.2M803.9 333.5h3.2M821.9 333.5h3.2M824.9 333.5h3.2M833.9 333.5h3.2M842.9 333.5h3.2M845.9 333.5h3.2M869.9 333.5h3.2M878.9 333.5h3.2M818.9 336.5h3.2M833.9 336.5h3.2M848.9 336.5h3.2M851.9 336.5h3.2M773.9 339.5h3.2M776.9 339.5h3.2M797.9 339.5h3.2M812.9 339.5h3.2M815.9 339.5h3.2M821.9 339.5h3.2M836.9 339.5h3.2M851.9 339.5h3.2M857.9 339.5h3.2M866.9 339.5h3.2M878.9 339.5h3.2M884.9 339.5h3.2M767.9 342.5h3.2M806.9 342.5h3.2M812.9 342.5h3.2M824.9 342.5h3.2M839.9 342.5h3.2M848.9 342.5h3.2M851.9 342.5h3.2M887.9 342.5h3.2M779.9 345.5h3.2M782.9 345.5h3.2M785.9 345.5h3.2M800.9 345.5h3.2M812.9 345.5h3.2M815.9 345.5h3.2M824.9 345.5h3.2M848.9 345.5h3.2M866.9 345.5h3.2M869.9 345.5h3.2M785.9 348.5h3.2M794.9 348.5h3.2M815.9 348.5h3.2M818.9 348.5h3.2M824.9 348.5h3.2M842.9 348.5h3.2M851.9 348.5h3.2M854.9 348.5h3.2M860.9 348.5h3.2M782.9 351.5h3.2M788.9 351.5h3.2M794.9 351.5h3.2M800.9 351.5h3.2M812.9 351.5h3.2M815.9 351.5h3.2M824.9 351.5h3.2M833.9 351.5h3.2M845.9 351.5h3.2M851.9 351.5h3.2M854.9 351.5h3.2M758.9 354.5h3.2M770.9 354.5h3.2M776.9 354.5h3.2M788.9 354.5h3.2M791.9 354.5h3.2M803.9 354.5h3.2M809.9 354.5h3.2M815.9 354.5h3.2M818.9 354.5h3.2M824.9 354.5h3.2M830.9 354.5h3.2M833.9 354.5h3.2M878.9 354.5h3.2M779.9 357.5h3.2M785.9 357.5h3.2M791.9 357.5h3.2M797.9 357.5h3.2M833.9 357.5h3.2M785.9 360.5h3.2M788.9 360.5h3.2M809.9 360.5h3.2M812.9 360.5h3.2M818.9 360.5h3.2M824.9 360.5h3.2M833.9 360.5h3.2M848.9 360.5h3.2M878.9 360.5h3.2M782.9 363.5h3.2M785.9 363.5h3.2M815.9 363.5h3.2M821.9 363.5h3.2M836.9 363.5h3.2M842.9 363.5h3.2M764.9 366.5h3.2M800.9 366.5h3.2M806.9 366.5h3.2M812.9 366.5h3.2M815.9 366.5h3.2M824.9 366.5h3.2M839.9 366.5h3.2M842.9 366.5h3.2M848.9 366.5h3.2M773.9 369.5h3.2M776.9 369.5h3.2M794.9 369.5h3.2M806.9 369.5h3.2M818.9 369.5h3.2M836.9 369.5h3.2M785.9 372.5h3.2M788.9 372.5h3.2M800.9 372.5h3.2M803.9 372.5h3.2M833.9 372.5h3.2M836.9 372.5h3.2M848.9 372.5h3.2M749.9 375.5h3.2M782.9 375.5h3.2M809.9 375.5h3.2M824.9 375.5h3.2M830.9 375.5h3.2M773.9 378.5h3.2M797.9 378.5h3.2M806.9 378.5h3.2M830.9 378.5h3.2M845.9 378.5h3.2M761.9 381.5h3.2M770.9 381.5h3.2M806.9 381.5h3.2M815.9 381.5h3.2M848.9 381.5h3.2M851.9 381.5h3.2M764.9 384.5h3.2M785.9 384.5h3.2M803.9 384.5h3.2M806.9 384.5h3.2M815.9 384.5h3.2M824.9 384.5h3.2M833.9 384.5h3.2M845.9 384.5h3.2M851.9 384.5h3.2M860.9 384.5h3.2M800.9 387.5h3.2M803.9 387.5h3.2M809.9 387.5h3.2M830.9 387.5h3.2M839.9 387.5h3.2M803.9 390.5h3.2M806.9 390.5h3.2M836.9 390.5h3.2M854.9 390.5h3.2M773.9 393.5h3.2M797.9 393.5h3.2M809.9 393.5h3.2M842.9 393.5h3.2M788.9 396.5h3.2M791.9 396.5h3.2M797.9 396.5h3.2M800.9 396.5h3.2M812.9 396.5h3.2M839.9 396.5h3.2M848.9 396.5h3.2M779.9 399.5h3.2M788.9 399.5h3.2M815.9 399.5h3.2M788.9 402.5h3.2M806.9 402.5h3.2M842.9 402.5h3.2M854.9 402.5h3.2M788.9 405.5h3.2M797.9 405.5h3.2M812.9 405.5h3.2M797.9 408.5h3.2M800.9 408.5h3.2M830.9 408.5h3.2M809.9 411.5h3.2M803.9 414.5h3.2M809.9 414.5h3.2M764.9 417.5h3.2M803.9 423.5h3.2M812.9 429.5h3.2M473.9 567.5h3.2M542.9 594.5h3.2M422.9 606.5h3.2M386.9 612.5h3.2M389.9 618.5h3.2M395.9 618.5h3.2M440.9 618.5h3.2M473.9 618.5h3.2M344.9 621.5h3.2M410.9 621.5h3.2M419.9 621.5h3.2M317.9 624.5h3.2M341.9 624.5h3.2M383.9 624.5h3.2M446.9 624.5h3.2M482.9 624.5h3.2M515.9 624.5h3.2M428.9 627.5h3.2M452.9 627.5h3.2M467.9 627.5h3.2M494.9 627.5h3.2M422.9 630.5h3.2M314.9 633.5h3.2M317.9 633.5h3.2M344.9 633.5h3.2M359.9 633.5h3.2M377.9 633.5h3.2M380.9 633.5h3.2M383.9 633.5h3.2M395.9 633.5h3.2M431.9 633.5h3.2M434.9 633.5h3.2M455.9 633.5h3.2M461.9 633.5h3.2M560.9 633.5h3.2M314.9 636.5h3.2M398.9 636.5h3.2M401.9 636.5h3.2M413.9 636.5h3.2M368.9 639.5h3.2M386.9 639.5h3.2M401.9 639.5h3.2M416.9 639.5h3.2M422.9 639.5h3.2M431.9 639.5h3.2M440.9 639.5h3.2M470.9 639.5h3.2M509.9 639.5h3.2M524.9 639.5h3.2M527.9 639.5h3.2M539.9 639.5h3.2M320.9 642.5h3.2M383.9 642.5h3.2M389.9 642.5h3.2M392.9 642.5h3.2M404.9 642.5h3.2M410.9 642.5h3.2M413.9 642.5h3.2M425.9 642.5h3.2M428.9 642.5h3.2M434.9 642.5h3.2M467.9 642.5h3.2M479.9 642.5h3.2M317.9 645.5h3.2M374.9 645.5h3.2M404.9 645.5h3.2M428.9 645.5h3.2M437.9 645.5h3.2M449.9 645.5h3.2M473.9 645.5h3.2M326.9 648.5h3.2M356.9 648.5h3.2M368.9 648.5h3.2M380.9 648.5h3.2M428.9 648.5h3.2M434.9 648.5h3.2M443.9 648.5h3.2M458.9 648.5h3.2M470.9 648.5h3.2M350.9 651.5h3.2M377.9 651.5h3.2M386.9 651.5h3.2M389.9 651.5h3.2M401.9 651.5h3.2M410.9 651.5h3.2M440.9 651.5h3.2M443.9 651.5h3.2M449.9 651.5h3.2M452.9 651.5h3.2M458.9 651.5h3.2M500.9 651.5h3.2M515.9 651.5h3.2M329.9 654.5h3.2M341.9 654.5h3.2M356.9 654.5h3.2M365.9 654.5h3.2M371.9 654.5h3.2M374.9 654.5h3.2M386.9 654.5h3.2M398.9 654.5h3.2M404.9 654.5h3.2M419.9 654.5h3.2M425.9 654.5h3.2M455.9 654.5h3.2M464.9 654.5h3.2M467.9 654.5h3.2M473.9 654.5h3.2M488.9 654.5h3.2M497.9 654.5h3.2M503.9 654.5h3.2M509.9 654.5h3.2M512.9 654.5h3.2M320.9 657.5h3.2M323.9 657.5h3.2M332.9 657.5h3.2M335.9 657.5h3.2M344.9 657.5h3.2M362.9 657.5h3.2M377.9 657.5h3.2M419.9 657.5h3.2M452.9 657.5h3.2M467.9 657.5h3.2M476.9 657.5h3.2M509.9 657.5h3.2M335.9 660.5h3.2M347.9 660.5h3.2M380.9 660.5h3.2M407.9 660.5h3.2M416.9 660.5h3.2M422.9 660.5h3.2M425.9 660.5h3.2M455.9 660.5h3.2M470.9 660.5h3.2M473.9 660.5h3.2M515.9 660.5h3.2M317.9 663.5h3.2M335.9 663.5h3.2M338.9 663.5h3.2M353.9 663.5h3.2M359.9 663.5h3.2M368.9 663.5h3.2M410.9 663.5h3.2M416.9 663.5h3.2M437.9 663.5h3.2M440.9 663.5h3.2M446.9 663.5h3.2M452.9 663.5h3.2M455.9 663.5h3.2M464.9 663.5h3.2M467.9 663.5h3.2M470.9 663.5h3.2M476.9 663.5h3.2M293.9 666.5h3.2M296.9 666.5h3.2M308.9 666.5h3.2M311.9 666.5h3.2M335.9 666.5h3.2M344.9 666.5h3.2M350.9 666.5h3.2M362.9 666.5h3.2M368.9 666.5h3.2M374.9 666.5h3.2M377.9 666.5h3.2M383.9 666.5h3.2M386.9 666.5h3.2M389.9 666.5h3.2M392.9 666.5h3.2M410.9 666.5h3.2M419.9 666.5h3.2M449.9 666.5h3.2M479.9 666.5h3.2M482.9 666.5h3.2M485.9 666.5h3.2M329.9 669.5h3.2M347.9 669.5h3.2M362.9 669.5h3.2M365.9 669.5h3.2M371.9 669.5h3.2M437.9 669.5h3.2M443.9 669.5h3.2M446.9 669.5h3.2M467.9 669.5h3.2M476.9 669.5h3.2M488.9 669.5h3.2M491.9 669.5h3.2M509.9 669.5h3.2M524.9 669.5h3.2M548.9 669.5h3.2M302.9 672.5h3.2M338.9 672.5h3.2M344.9 672.5h3.2M350.9 672.5h3.2M362.9 672.5h3.2M374.9 672.5h3.2M395.9 672.5h3.2M404.9 672.5h3.2M410.9 672.5h3.2M422.9 672.5h3.2M443.9 672.5h3.2M446.9 672.5h3.2M452.9 672.5h3.2M497.9 672.5h3.2M524.9 672.5h3.2M530.9 672.5h3.2M296.9 675.5h3.2M302.9 675.5h3.2M329.9 675.5h3.2M332.9 675.5h3.2M350.9 675.5h3.2M353.9 675.5h3.2M359.9 675.5h3.2M362.9 675.5h3.2M365.9 675.5h3.2M377.9 675.5h3.2M401.9 675.5h3.2M404.9 675.5h3.2M413.9 675.5h3.2M428.9 675.5h3.2M461.9 675.5h3.2M467.9 675.5h3.2M470.9 675.5h3.2M482.9 675.5h3.2M503.9 675.5h3.2M515.9 675.5h3.2M521.9 675.5h3.2M353.9 678.5h3.2M362.9 678.5h3.2M365.9 678.5h3.2M371.9 678.5h3.2M380.9 678.5h3.2M404.9 678.5h3.2M425.9 678.5h3.2M443.9 678.5h3.2M452.9 678.5h3.2M458.9 678.5h3.2M461.9 678.5h3.2M473.9 678.5h3.2M509.9 678.5h3.2M266.9 681.5h3.2M305.9 681.5h3.2M329.9 681.5h3.2M332.9 681.5h3.2M335.9 681.5h3.2M350.9 681.5h3.2M377.9 681.5h3.2M389.9 681.5h3.2M392.9 681.5h3.2M401.9 681.5h3.2M407.9 681.5h3.2M413.9 681.5h3.2M416.9 681.5h3.2M419.9 681.5h3.2M425.9 681.5h3.2M443.9 681.5h3.2M446.9 681.5h3.2M458.9 681.5h3.2M479.9 681.5h3.2M497.9 681.5h3.2M521.9 681.5h3.2M524.9 681.5h3.2M287.9 684.5h3.2M302.9 684.5h3.2M320.9 684.5h3.2M338.9 684.5h3.2M347.9 684.5h3.2M359.9 684.5h3.2M362.9 684.5h3.2M383.9 684.5h3.2M392.9 684.5h3.2M404.9 684.5h3.2M437.9 684.5h3.2M449.9 684.5h3.2M470.9 684.5h3.2M479.9 684.5h3.2M482.9 684.5h3.2M485.9 684.5h3.2M284.9 687.5h3.2M290.9 687.5h3.2M299.9 687.5h3.2M314.9 687.5h3.2M326.9 687.5h3.2M329.9 687.5h3.2M332.9 687.5h3.2M344.9 687.5h3.2M347.9 687.5h3.2M356.9 687.5h3.2M377.9 687.5h3.2M392.9 687.5h3.2M398.9 687.5h3.2M413.9 687.5h3.2M419.9 687.5h3.2M428.9 687.5h3.2M452.9 687.5h3.2M455.9 687.5h3.2M461.9 687.5h3.2M470.9 687.5h3.2M473.9 687.5h3.2M476.9 687.5h3.2M308.9 690.5h3.2M320.9 690.5h3.2M323.9 690.5h3.2M332.9 690.5h3.2M341.9 690.5h3.2M344.9 690.5h3.2M389.9 690.5h3.2M392.9 690.5h3.2M401.9 690.5h3.2M407.9 690.5h3.2M419.9 690.5h3.2M440.9 690.5h3.2M464.9 690.5h3.2M473.9 690.5h3.2M488.9 690.5h3.2M545.9 690.5h3.2M281.9 693.5h3.2M296.9 693.5h3.2M311.9 693.5h3.2M314.9 693.5h3.2M317.9 693.5h3.2M323.9 693.5h3.2M335.9 693.5h3.2M341.9 693.5h3.2M344.9 693.5h3.2M347.9 693.5h3.2M362.9 693.5h3.2M380.9 693.5h3.2M404.9 693.5h3.2M413.9 693.5h3.2M422.9 693.5h3.2M437.9 693.5h3.2M449.9 693.5h3.2M452.9 693.5h3.2M461.9 693.5h3.2M482.9 693.5h3.2M503.9 693.5h3.2M551.9 693.5h3.2M293.9 696.5h3.2M296.9 696.5h3.2M311.9 696.5h3.2M326.9 696.5h3.2M329.9 696.5h3.2M335.9 696.5h3.2M338.9 696.5h3.2M341.9 696.5h3.2M353.9 696.5h3.2M356.9 696.5h3.2M365.9 696.5h3.2M368.9 696.5h3.2M374.9 696.5h3.2M377.9 696.5h3.2M380.9 696.5h3.2M407.9 696.5h3.2M410.9 696.5h3.2M428.9 696.5h3.2M440.9 696.5h3.2M449.9 696.5h3.2M464.9 696.5h3.2M467.9 696.5h3.2M473.9 696.5h3.2M284.9 699.5h3.2M305.9 699.5h3.2M311.9 699.5h3.2M332.9 699.5h3.2M356.9 699.5h3.2M371.9 699.5h3.2M386.9 699.5h3.2M410.9 699.5h3.2M425.9 699.5h3.2M446.9 699.5h3.2M518.9 699.5h3.2M521.9 699.5h3.2M287.9 702.5h3.2M296.9 702.5h3.2M299.9 702.5h3.2M305.9 702.5h3.2M323.9 702.5h3.2M332.9 702.5h3.2M356.9 702.5h3.2M359.9 702.5h3.2M362.9 702.5h3.2M407.9 702.5h3.2M410.9 702.5h3.2M413.9 702.5h3.2M416.9 702.5h3.2M422.9 702.5h3.2M425.9 702.5h3.2M461.9 702.5h3.2M467.9 702.5h3.2M470.9 702.5h3.2M473.9 702.5h3.2M482.9 702.5h3.2M488.9 702.5h3.2M491.9 702.5h3.2M548.9 702.5h3.2M266.9 705.5h3.2M296.9 705.5h3.2M302.9 705.5h3.2M326.9 705.5h3.2M335.9 705.5h3.2M338.9 705.5h3.2M344.9 705.5h3.2M347.9 705.5h3.2M380.9 705.5h3.2M383.9 705.5h3.2M386.9 705.5h3.2M407.9 705.5h3.2M416.9 705.5h3.2M422.9 705.5h3.2M428.9 705.5h3.2M431.9 705.5h3.2M434.9 705.5h3.2M446.9 705.5h3.2M449.9 705.5h3.2M458.9 705.5h3.2M461.9 705.5h3.2M470.9 705.5h3.2M485.9 705.5h3.2M494.9 705.5h3.2M509.9 705.5h3.2M263.9 708.5h3.2M302.9 708.5h3.2M338.9 708.5h3.2M359.9 708.5h3.2M362.9 708.5h3.2M374.9 708.5h3.2M377.9 708.5h3.2M380.9 708.5h3.2M392.9 708.5h3.2M395.9 708.5h3.2M398.9 708.5h3.2M425.9 708.5h3.2M440.9 708.5h3.2M455.9 708.5h3.2M458.9 708.5h3.2M464.9 708.5h3.2M470.9 708.5h3.2M485.9 708.5h3.2M509.9 708.5h3.2M521.9 708.5h3.2M275.9 711.5h3.2M290.9 711.5h3.2M299.9 711.5h3.2M317.9 711.5h3.2M326.9 711.5h3.2M368.9 711.5h3.2M380.9 711.5h3.2M389.9 711.5h3.2M398.9 711.5h3.2M401.9 711.5h3.2M416.9 711.5h3.2M422.9 711.5h3.2M425.9 711.5h3.2M434.9 711.5h3.2M443.9 711.5h3.2M458.9 711.5h3.2M482.9 711.5h3.2M485.9 711.5h3.2M497.9 711.5h3.2M503.9 711.5h3.2M518.9 711.5h3.2M281.9 714.5h3.2M287.9 714.5h3.2M296.9 714.5h3.2M299.9 714.5h3.2M320.9 714.5h3.2M338.9 714.5h3.2M344.9 714.5h3.2M353.9 714.5h3.2M371.9 714.5h3.2M398.9 714.5h3.2M401.9 714.5h3.2M404.9 714.5h3.2M410.9 714.5h3.2M413.9 714.5h3.2M419.9 714.5h3.2M425.9 714.5h3.2M440.9 714.5h3.2M443.9 714.5h3.2M449.9 714.5h3.2M464.9 714.5h3.2M497.9 714.5h3.2M500.9 714.5h3.2M521.9 714.5h3.2M296.9 717.5h3.2M317.9 717.5h3.2M338.9 717.5h3.2M344.9 717.5h3.2M350.9 717.5h3.2M353.9 717.5h3.2M356.9 717.5h3.2M371.9 717.5h3.2M377.9 717.5h3.2M383.9 717.5h3.2M392.9 717.5h3.2M422.9 717.5h3.2M431.9 717.5h3.2M434.9 717.5h3.2M473.9 717.5h3.2M485.9 717.5h3.2M488.9 717.5h3.2M521.9 717.5h3.2M302.9 720.5h3.2M308.9 720.5h3.2M311.9 720.5h3.2M317.9 720.5h3.2M320.9 720.5h3.2M335.9 720.5h3.2M338.9 720.5h3.2M344.9 720.5h3.2M347.9 720.5h3.2M350.9 720.5h3.2M368.9 720.5h3.2M371.9 720.5h3.2M383.9 720.5h3.2M389.9 720.5h3.2M401.9 720.5h3.2M422.9 720.5h3.2M431.9 720.5h3.2M434.9 720.5h3.2M440.9 720.5h3.2M443.9 720.5h3.2M446.9 720.5h3.2M449.9 720.5h3.2M455.9 720.5h3.2M458.9 720.5h3.2M476.9 720.5h3.2M287.9 723.5h3.2M305.9 723.5h3.2M341.9 723.5h3.2M347.9 723.5h3.2M353.9 723.5h3.2M356.9 723.5h3.2M365.9 723.5h3.2M374.9 723.5h3.2M383.9 723.5h3.2M386.9 723.5h3.2M392.9 723.5h3.2M398.9 723.5h3.2M413.9 723.5h3.2M416.9 723.5h3.2M437.9 723.5h3.2M485.9 723.5h3.2M512.9 723.5h3.2M281.9 726.5h3.2M284.9 726.5h3.2M290.9 726.5h3.2M305.9 726.5h3.2M308.9 726.5h3.2M311.9 726.5h3.2M314.9 726.5h3.2M320.9 726.5h3.2M335.9 726.5h3.2M356.9 726.5h3.2M368.9 726.5h3.2M392.9 726.5h3.2M404.9 726.5h3.2M416.9 726.5h3.2M428.9 726.5h3.2M431.9 726.5h3.2M449.9 726.5h3.2M467.9 726.5h3.2M470.9 726.5h3.2M512.9 726.5h3.2M515.9 726.5h3.2M269.9 729.5h3.2M284.9 729.5h3.2M287.9 729.5h3.2M305.9 729.5h3.2M311.9 729.5h3.2M317.9 729.5h3.2M335.9 729.5h3.2M341.9 729.5h3.2M344.9 729.5h3.2M362.9 729.5h3.2M374.9 729.5h3.2M386.9 729.5h3.2M389.9 729.5h3.2M404.9 729.5h3.2M407.9 729.5h3.2M419.9 729.5h3.2M425.9 729.5h3.2M440.9 729.5h3.2M449.9 729.5h3.2M452.9 729.5h3.2M458.9 729.5h3.2M476.9 729.5h3.2M488.9 729.5h3.2M491.9 729.5h3.2M494.9 729.5h3.2M515.9 729.5h3.2M269.9 732.5h3.2M284.9 732.5h3.2M302.9 732.5h3.2M320.9 732.5h3.2M338.9 732.5h3.2M347.9 732.5h3.2M356.9 732.5h3.2M389.9 732.5h3.2M395.9 732.5h3.2M407.9 732.5h3.2M413.9 732.5h3.2M416.9 732.5h3.2M467.9 732.5h3.2M479.9 732.5h3.2M482.9 732.5h3.2M488.9 732.5h3.2M491.9 732.5h3.2M293.9 735.5h3.2M302.9 735.5h3.2M311.9 735.5h3.2M323.9 735.5h3.2M338.9 735.5h3.2M341.9 735.5h3.2M365.9 735.5h3.2M398.9 735.5h3.2M413.9 735.5h3.2M419.9 735.5h3.2M425.9 735.5h3.2M437.9 735.5h3.2M452.9 735.5h3.2M458.9 735.5h3.2M461.9 735.5h3.2M467.9 735.5h3.2M473.9 735.5h3.2M488.9 735.5h3.2M527.9 735.5h3.2M290.9 738.5h3.2M293.9 738.5h3.2M296.9 738.5h3.2M299.9 738.5h3.2M308.9 738.5h3.2M317.9 738.5h3.2M320.9 738.5h3.2M341.9 738.5h3.2M344.9 738.5h3.2M362.9 738.5h3.2M365.9 738.5h3.2M371.9 738.5h3.2M416.9 738.5h3.2M437.9 738.5h3.2M446.9 738.5h3.2M455.9 738.5h3.2M458.9 738.5h3.2M464.9 738.5h3.2M470.9 738.5h3.2M473.9 738.5h3.2M479.9 738.5h3.2M482.9 738.5h3.2M491.9 738.5h3.2M272.9 741.5h3.2M281.9 741.5h3.2M284.9 741.5h3.2M293.9 741.5h3.2M308.9 741.5h3.2M317.9 741.5h3.2M341.9 741.5h3.2M404.9 741.5h3.2M422.9 741.5h3.2M428.9 741.5h3.2M437.9 741.5h3.2M443.9 741.5h3.2M446.9 741.5h3.2M449.9 741.5h3.2M452.9 741.5h3.2M461.9 741.5h3.2M464.9 741.5h3.2M470.9 741.5h3.2M491.9 741.5h3.2M293.9 744.5h3.2M311.9 744.5h3.2M314.9 744.5h3.2M320.9 744.5h3.2M323.9 744.5h3.2M344.9 744.5h3.2M356.9 744.5h3.2M362.9 744.5h3.2M371.9 744.5h3.2M395.9 744.5h3.2M431.9 744.5h3.2M434.9 744.5h3.2M440.9 744.5h3.2M443.9 744.5h3.2M458.9 744.5h3.2M512.9 744.5h3.2M290.9 747.5h3.2M302.9 747.5h3.2M308.9 747.5h3.2M329.9 747.5h3.2M362.9 747.5h3.2M368.9 747.5h3.2M386.9 747.5h3.2M392.9 747.5h3.2M398.9 747.5h3.2M422.9 747.5h3.2M425.9 747.5h3.2M437.9 747.5h3.2M443.9 747.5h3.2M446.9 747.5h3.2M470.9 747.5h3.2M482.9 747.5h3.2M488.9 747.5h3.2M500.9 747.5h3.2M503.9 747.5h3.2M515.9 747.5h3.2M287.9 750.5h3.2M311.9 750.5h3.2M323.9 750.5h3.2M326.9 750.5h3.2M335.9 750.5h3.2M353.9 750.5h3.2M365.9 750.5h3.2M392.9 750.5h3.2M410.9 750.5h3.2M449.9 750.5h3.2M455.9 750.5h3.2M467.9 750.5h3.2M482.9 750.5h3.2M491.9 750.5h3.2M284.9 753.5h3.2M287.9 753.5h3.2M290.9 753.5h3.2M302.9 753.5h3.2M323.9 753.5h3.2M332.9 753.5h3.2M335.9 753.5h3.2M341.9 753.5h3.2M368.9 753.5h3.2M398.9 753.5h3.2M416.9 753.5h3.2M419.9 753.5h3.2M428.9 753.5h3.2M437.9 753.5h3.2M443.9 753.5h3.2M458.9 753.5h3.2M464.9 753.5h3.2M467.9 753.5h3.2M473.9 753.5h3.2M476.9 753.5h3.2M485.9 753.5h3.2M488.9 753.5h3.2M494.9 753.5h3.2M536.9 753.5h3.2M263.9 756.5h3.2M281.9 756.5h3.2M299.9 756.5h3.2M302.9 756.5h3.2M311.9 756.5h3.2M326.9 756.5h3.2M332.9 756.5h3.2M341.9 756.5h3.2M365.9 756.5h3.2M371.9 756.5h3.2M377.9 756.5h3.2M389.9 756.5h3.2M407.9 756.5h3.2M413.9 756.5h3.2M422.9 756.5h3.2M437.9 756.5h3.2M440.9 756.5h3.2M452.9 756.5h3.2M455.9 756.5h3.2M470.9 756.5h3.2M485.9 756.5h3.2M512.9 756.5h3.2M524.9 756.5h3.2M284.9 759.5h3.2M299.9 759.5h3.2M314.9 759.5h3.2M344.9 759.5h3.2M347.9 759.5h3.2M359.9 759.5h3.2M374.9 759.5h3.2M398.9 759.5h3.2M425.9 759.5h3.2M434.9 759.5h3.2M449.9 759.5h3.2M452.9 759.5h3.2M455.9 759.5h3.2M503.9 759.5h3.2M272.9 762.5h3.2M308.9 762.5h3.2M311.9 762.5h3.2M320.9 762.5h3.2M326.9 762.5h3.2M341.9 762.5h3.2M365.9 762.5h3.2M368.9 762.5h3.2M386.9 762.5h3.2M401.9 762.5h3.2M407.9 762.5h3.2M413.9 762.5h3.2M449.9 762.5h3.2M473.9 762.5h3.2M479.9 762.5h3.2M500.9 762.5h3.2M320.9 765.5h3.2M332.9 765.5h3.2M356.9 765.5h3.2M389.9 765.5h3.2M392.9 765.5h3.2M455.9 765.5h3.2M467.9 765.5h3.2M470.9 765.5h3.2M494.9 765.5h3.2M497.9 765.5h3.2M503.9 765.5h3.2M506.9 765.5h3.2M281.9 768.5h3.2M293.9 768.5h3.2M317.9 768.5h3.2M323.9 768.5h3.2M338.9 768.5h3.2M344.9 768.5h3.2M347.9 768.5h3.2M356.9 768.5h3.2M374.9 768.5h3.2M398.9 768.5h3.2M401.9 768.5h3.2M428.9 768.5h3.2M434.9 768.5h3.2M437.9 768.5h3.2M452.9 768.5h3.2M458.9 768.5h3.2M461.9 768.5h3.2M467.9 768.5h3.2M476.9 768.5h3.2M497.9 768.5h3.2M500.9 768.5h3.2M272.9 771.5h3.2M293.9 771.5h3.2M299.9 771.5h3.2M320.9 771.5h3.2M323.9 771.5h3.2M326.9 771.5h3.2M341.9 771.5h3.2M353.9 771.5h3.2M356.9 771.5h3.2M365.9 771.5h3.2M380.9 771.5h3.2M389.9 771.5h3.2M398.9 771.5h3.2M401.9 771.5h3.2M428.9 771.5h3.2M452.9 771.5h3.2M467.9 771.5h3.2M470.9 771.5h3.2M482.9 771.5h3.2M485.9 771.5h3.2M497.9 771.5h3.2M512.9 771.5h3.2M524.9 771.5h3.2M299.9 774.5h3.2M308.9 774.5h3.2M326.9 774.5h3.2M335.9 774.5h3.2M344.9 774.5h3.2M386.9 774.5h3.2M398.9 774.5h3.2M401.9 774.5h3.2M404.9 774.5h3.2M407.9 774.5h3.2M422.9 774.5h3.2M431.9 774.5h3.2M446.9 774.5h3.2M458.9 774.5h3.2M461.9 774.5h3.2M470.9 774.5h3.2M479.9 774.5h3.2M491.9 774.5h3.2M500.9 774.5h3.2M512.9 774.5h3.2M296.9 777.5h3.2M311.9 777.5h3.2M329.9 777.5h3.2M332.9 777.5h3.2M335.9 777.5h3.2M344.9 777.5h3.2M362.9 777.5h3.2M365.9 777.5h3.2M368.9 777.5h3.2M386.9 777.5h3.2M398.9 777.5h3.2M404.9 777.5h3.2M440.9 777.5h3.2M443.9 777.5h3.2M470.9 777.5h3.2M479.9 777.5h3.2M482.9 777.5h3.2M284.9 780.5h3.2M311.9 780.5h3.2M317.9 780.5h3.2M338.9 780.5h3.2M344.9 780.5h3.2M365.9 780.5h3.2M398.9 780.5h3.2M413.9 780.5h3.2M422.9 780.5h3.2M434.9 780.5h3.2M443.9 780.5h3.2M446.9 780.5h3.2M467.9 780.5h3.2M311.9 783.5h3.2M329.9 783.5h3.2M338.9 783.5h3.2M341.9 783.5h3.2M356.9 783.5h3.2M377.9 783.5h3.2M386.9 783.5h3.2M398.9 783.5h3.2M413.9 783.5h3.2M416.9 783.5h3.2M425.9 783.5h3.2M431.9 783.5h3.2M488.9 783.5h3.2M491.9 783.5h3.2M494.9 783.5h3.2M296.9 786.5h3.2M311.9 786.5h3.2M326.9 786.5h3.2M329.9 786.5h3.2M332.9 786.5h3.2M335.9 786.5h3.2M344.9 786.5h3.2M362.9 786.5h3.2M386.9 786.5h3.2M407.9 786.5h3.2M410.9 786.5h3.2M422.9 786.5h3.2M431.9 786.5h3.2M443.9 786.5h3.2M455.9 786.5h3.2M470.9 786.5h3.2M290.9 789.5h3.2M299.9 789.5h3.2M311.9 789.5h3.2M317.9 789.5h3.2M326.9 789.5h3.2M332.9 789.5h3.2M335.9 789.5h3.2M350.9 789.5h3.2M383.9 789.5h3.2M392.9 789.5h3.2M416.9 789.5h3.2M419.9 789.5h3.2M425.9 789.5h3.2M482.9 789.5h3.2M284.9 792.5h3.2M299.9 792.5h3.2M305.9 792.5h3.2M311.9 792.5h3.2M338.9 792.5h3.2M341.9 792.5h3.2M371.9 792.5h3.2M377.9 792.5h3.2M428.9 792.5h3.2M434.9 792.5h3.2M455.9 792.5h3.2M461.9 792.5h3.2M467.9 792.5h3.2M488.9 792.5h3.2M311.9 795.5h3.2M320.9 795.5h3.2M350.9 795.5h3.2M362.9 795.5h3.2M392.9 795.5h3.2M419.9 795.5h3.2M434.9 795.5h3.2M461.9 795.5h3.2M482.9 795.5h3.2M287.9 798.5h3.2M305.9 798.5h3.2M311.9 798.5h3.2M335.9 798.5h3.2M338.9 798.5h3.2M362.9 798.5h3.2M371.9 798.5h3.2M374.9 798.5h3.2M383.9 798.5h3.2M392.9 798.5h3.2M404.9 798.5h3.2M407.9 798.5h3.2M443.9 798.5h3.2M461.9 798.5h3.2M470.9 798.5h3.2M473.9 798.5h3.2M272.9 801.5h3.2M302.9 801.5h3.2M308.9 801.5h3.2M356.9 801.5h3.2M362.9 801.5h3.2M377.9 801.5h3.2M401.9 801.5h3.2M410.9 801.5h3.2M422.9 801.5h3.2M434.9 801.5h3.2M443.9 801.5h3.2M446.9 801.5h3.2M449.9 801.5h3.2M452.9 801.5h3.2M464.9 801.5h3.2M272.9 804.5h3.2M278.9 804.5h3.2M326.9 804.5h3.2M347.9 804.5h3.2M350.9 804.5h3.2M365.9 804.5h3.2M368.9 804.5h3.2M395.9 804.5h3.2M401.9 804.5h3.2M461.9 804.5h3.2M311.9 807.5h3.2M314.9 807.5h3.2M332.9 807.5h3.2M335.9 807.5h3.2M341.9 807.5h3.2M344.9 807.5h3.2M371.9 807.5h3.2M380.9 807.5h3.2M389.9 807.5h3.2M392.9 807.5h3.2M482.9 807.5h3.2M368.9 810.5h3.2M371.9 810.5h3.2M380.9 810.5h3.2M383.9 810.5h3.2M395.9 810.5h3.2M410.9 810.5h3.2M428.9 810.5h3.2M440.9 810.5h3.2M446.9 810.5h3.2M485.9 810.5h3.2M326.9 813.5h3.2M335.9 813.5h3.2M347.9 813.5h3.2M353.9 813.5h3.2M359.9 813.5h3.2M362.9 813.5h3.2M368.9 813.5h3.2M374.9 813.5h3.2M380.9 813.5h3.2M398.9 813.5h3.2M407.9 813.5h3.2M410.9 813.5h3.2M452.9 813.5h3.2M458.9 813.5h3.2M317.9 816.5h3.2M320.9 816.5h3.2M359.9 816.5h3.2M377.9 816.5h3.2M383.9 816.5h3.2M392.9 816.5h3.2M410.9 816.5h3.2M440.9 816.5h3.2M449.9 816.5h3.2M452.9 816.5h3.2M467.9 816.5h3.2M503.9 816.5h3.2M278.9 819.5h3.2M293.9 819.5h3.2M302.9 819.5h3.2M335.9 819.5h3.2M356.9 819.5h3.2M365.9 819.5h3.2M374.9 819.5h3.2M383.9 819.5h3.2M386.9 819.5h3.2M410.9 819.5h3.2M422.9 819.5h3.2M434.9 819.5h3.2M302.9 822.5h3.2M311.9 822.5h3.2M335.9 822.5h3.2M338.9 822.5h3.2M356.9 822.5h3.2M368.9 822.5h3.2M404.9 822.5h3.2M407.9 822.5h3.2M455.9 822.5h3.2M401.9 825.5h3.2M416.9 825.5h3.2M275.9 828.5h3.2M437.9 828.5h3.2M344.9 831.5h3.2M368.9 831.5h3.2M338.9 834.5h3.2M341.9 834.5h3.2M374.9 834.5h3.2M395.9 834.5h3.2M404.9 834.5h3.2M416.9 834.5h3.2M422.9 834.5h3.2M332.9 837.5h3.2M386.9 837.5h3.2M401.9 837.5h3.2M458.9 837.5h3.2M308.9 840.5h3.2M344.9 840.5h3.2M383.9 840.5h3.2M410.9 840.5h3.2M335.9 843.5h3.2M419.9 843.5h3.2M497.9 843.5h3.2M281.9 858.5h3.2M332.9 861.5h3.2M359.9 867.5h3.2M422.9 870.5h3.2M368.9 873.5h3.2M326.9 876.5h3.2M392.9 377.8h3.2M575.2 592.5h3.2" stroke="#00ffff" stroke-width="3.2"/>
<path d="M839.9 282.5h3.2M869.9 285.5h3.2M851.9 291.5h3.2M863.9 291.5h3.2M860.9 294.5h3.2M809.9 297.5h3.2M833.9 297.5h3.2M872.9 297.5h3.2M875.9 297.5h3.2M821.9 300.5h3.2M842.9 300.5h3.2M845.9 300.5h3.2M848.9 300.5h3.2M860.9 300.5h3.2M884.9 300.5h3.2M800.9 303.5h3.2M833.9 303.5h3.2M866.9 303.5h3.2M794.9 306.5h3.2M809.9 306.5h3.2M812.9 306.5h3.2M845.9 306.5h3.2M851.9 306.5h3.2M866.9 306.5h3.2M803.9 309.5h3.2M812.9 309.5h3.2M854.9 309.5h3.2M857.9 309.5h3.2M866.9 309.5h3.2M872.9 309.5h3.2M782.9 312.5h3.2M785.9 312.5h3.2M824.9 312.5h3.2M866.9 312.5h3.2M881.9 312.5h3.2M806.9 315.5h3.2M833.9 315.5h3.2M863.9 315.5h3.2M791.9 318.5h3.2M803.9 318.5h3.2M806.9 318.5h3.2M869.9 318.5h3.2M872.9 318.5h3.2M890.9 318.5h3.2M848.9 321.5h3.2M854.9 321.5h3.2M860.9 321.5h3.2M863.9 321.5h3.2M872.9 321.5h3.2M866.9 324.5h3.2M869.9 324.5h3.2M791.9 327.5h3.2M824.9 327.5h3.2M836.9 327.5h3.2M845.9 327.5h3.2M809.9 330.5h3.2M812.9 330.5h3.2M824.9 330.5h3.2M836.9 330.5h3.2M839.9 330.5h3.2M845.9 330.5h3.2M872.9 330.5h3.2M875.9 330.5h3.2M788.9 333.5h3.2M818.9 333.5h3.2M851.9 333.5h3.2M854.9 333.5h3.2M797.9 336.5h3.2M803.9 336.5h3.2M806.9 336.5h3.2M809.9 336.5h3.2M824.9 336.5h3.2M830.9 336.5h3.2M839.9 336.5h3.2M842.9 336.5h3.2M857.9 336.5h3.2M791.9 339.5h3.2M809.9 339.5h3.2M827.9 339.5h3.2M830.9 339.5h3.2M833.9 339.5h3.2M776.9 342.5h3.2M782.9 342.5h3.2M821.9 342.5h3.2M830.9 342.5h3.2M836.9 342.5h3.2M857.9 342.5h3.2M875.9 342.5h3.2M776.9 345.5h3.2M845.9 345.5h3.2M770.9 348.5h3.2M779.9 348.5h3.2M806.9 348.5h3.2M809.9 348.5h3.2M797.9 351.5h3.2M803.9 351.5h3.2M821.9 351.5h3.2M836.9 351.5h3.2M782.9 357.5h3.2M788.9 357.5h3.2M803.9 357.5h3.2M818.9 357.5h3.2M830.9 357.5h3.2M839.9 357.5h3.2M779.9 360.5h3.2M806.9 360.5h3.2M815.9 360.5h3.2M842.9 360.5h3.2M791.9 363.5h3.2M797.9 363.5h3.2M806.9 363.5h3.2M809.9 366.5h3.2M770.9 369.5h3.2M803.9 369.5h3.2M812.9 369.5h3.2M839.9 369.5h3.2M848.9 369.5h3.2M797.9 372.5h3.2M806.9 372.5h3.2M821.9 372.5h3.2M812.9 375.5h3.2M836.9 375.5h3.2M809.9 378.5h3.2M821.9 378.5h3.2M824.9 378.5h3.2M839.9 378.5h3.2M842.9 378.5h3.2M794.9 381.5h3.2M809.9 381.5h3.2M824.9 381.5h3.2M827.9 384.5h3.2M836.9 384.5h3.2M821.9 387.5h3.2M824.9 387.5h3.2M836.9 387.5h3.2M857.9 387.5h3.2M800.9 390.5h3.2M836.9 396.5h3.2M794.9 399.5h3.2M821.9 399.5h3.2M827.9 399.5h3.2M794.9 402.5h3.2M809.9 408.5h3.2M428.9 609.5h3.2M467.9 621.5h3.2M311.9 636.5h3.2M362.9 636.5h3.2M410.9 636.5h3.2M464.9 636.5h3.2M479.9 636.5h3.2M311.9 639.5h3.2M359.9 639.5h3.2M368.9 642.5h3.2M371.9 642.5h3.2M311.9 645.5h3.2M362.9 645.5h3.2M464.9 645.5h3.2M467.9 645.5h3.2M524.9 645.5h3.2M353.9 648.5h3.2M377.9 648.5h3.2M386.9 648.5h3.2M392.9 648.5h3.2M425.9 648.5h3.2M317.9 651.5h3.2M335.9 651.5h3.2M383.9 651.5h3.2M407.9 651.5h3.2M428.9 651.5h3.2M434.9 651.5h3.2M446.9 651.5h3.2M467.9 651.5h3.2M347.9 654.5h3.2M350.9 654.5h3.2M359.9 654.5h3.2M422.9 654.5h3.2M479.9 654.5h3.2M500.9 654.5h3.2M353.9 657.5h3.2M365.9 657.5h3.2M383.9 657.5h3.2M461.9 657.5h3.2M491.9 657.5h3.2M323.9 660.5h3.2M386.9 660.5h3.2M404.9 660.5h3.2M419.9 660.5h3.2M494.9 660.5h3.2M332.9 663.5h3.2M344.9 663.5h3.2M371.9 663.5h3.2M380.9 663.5h3.2M395.9 663.5h3.2M398.9 663.5h3.2M404.9 663.5h3.2M479.9 663.5h3.2M524.9 663.5h3.2M305.9 666.5h3.2M359.9 666.5h3.2M371.9 666.5h3.2M395.9 666.5h3.2M401.9 666.5h3.2M404.9 666.5h3.2M467.9 666.5h3.2M332.9 669.5h3.2M350.9 669.5h3.2M392.9 669.5h3.2M410.9 669.5h3.2M419.9 669.5h3.2M479.9 669.5h3.2M311.9 672.5h3.2M332.9 672.5h3.2M335.9 672.5h3.2M377.9 672.5h3.2M380.9 672.5h3.2M386.9 672.5h3.2M389.9 672.5h3.2M437.9 672.5h3.2M464.9 672.5h3.2M473.9 672.5h3.2M479.9 672.5h3.2M518.9 672.5h3.2M287.9 675.5h3.2M299.9 675.5h3.2M314.9 675.5h3.2M323.9 675.5h3.2M338.9 675.5h3.2M341.9 675.5h3.2M368.9 675.5h3.2M383.9 675.5h3.2M386.9 675.5h3.2M395.9 675.5h3.2M398.9 675.5h3.2M407.9 675.5h3.2M410.9 675.5h3.2M431.9 675.5h3.2M434.9 675.5h3.2M458.9 675.5h3.2M296.9 678.5h3.2M314.9 678.5h3.2M329.9 678.5h3.2M335.9 678.5h3.2M341.9 678.5h3.2M347.9 678.5h3.2M359.9 678.5h3.2M368.9 678.5h3.2M386.9 678.5h3.2M389.9 678.5h3.2M401.9 678.5h3.2M407.9 678.5h3.2M413.9 678.5h3.2M416.9 678.5h3.2M446.9 678.5h3.2M449.9 678.5h3.2M479.9 678.5h3.2M326.9 681.5h3.2M338.9 681.5h3.2M344.9 681.5h3.2M356.9 681.5h3.2M368.9 681.5h3.2M380.9 681.5h3.2M383.9 681.5h3.2M455.9 681.5h3.2M467.9 681.5h3.2M491.9 681.5h3.2M317.9 684.5h3.2M329.9 684.5h3.2M341.9 684.5h3.2M353.9 684.5h3.2M377.9 684.5h3.2M413.9 684.5h3.2M416.9 684.5h3.2M419.9 684.5h3.2M431.9 684.5h3.2M446.9 684.5h3.2M464.9 684.5h3.2M491.9 684.5h3.2M323.9 687.5h3.2M380.9 687.5h3.2M395.9 687.5h3.2M407.9 687.5h3.2M410.9 687.5h3.2M416.9 687.5h3.2M440.9 687.5h3.2M500.9 687.5h3.2M266.9 690.5h3.2M335.9 690.5h3.2M338.9 690.5h3.2M350.9 690.5h3.2M383.9 690.5h3.2M416.9 690.5h3.2M422.9 690.5h3.2M437.9 690.5h3.2M476.9 690.5h3.2M506.9 690.5h3.2M290.9 693.5h3.2M305.9 693.5h3.2M356.9 693.5h3.2M359.9 693.5h3.2M368.9 693.5h3.2M383.9 693.5h3.2M401.9 693.5h3.2M410.9 693.5h3.2M416.9 693.5h3.2M419.9 693.5h3.2M428.9 693.5h3.2M443.9 693.5h3.2M485.9 693.5h3.2M323.9 696.5h3.2M347.9 696.5h3.2M371.9 696.5h3.2M383.9 696.5h3.2M389.9 696.5h3.2M398.9 696.5h3.2M413.9 696.5h3.2M419.9 696.5h3.2M443.9 696.5h3.2M290.9 699.5h3.2M308.9 699.5h3.2M350.9 699.5h3.2M365.9 699.5h3.2M377.9 699.5h3.2M380.9 699.5h3.2M419.9 699.5h3.2M431.9 699.5h3.2M434.9 699.5h3.2M443.9 699.5h3.2M311.9 702.5h3.2M335.9 702.5h3.2M338.9 702.5h3.2M344.9 702.5h3.2M347.9 702.5h3.2M353.9 702.5h3.2M383.9 702.5h3.2M398.9 702.5h3.2M440.9 702.5h3.2M299.9 705.5h3.2M353.9 705.5h3.2M356.9 705.5h3.2M374.9 705.5h3.2M389.9 705.5h3.2M398.9 705.5h3.2M404.9 705.5h3.2M452.9 705.5h3.2M455.9 705.5h3.2M503.9 705.5h3.2M299.9 708.5h3.2M305.9 708.5h3.2M314.9 708.5h3.2M317.9 708.5h3.2M326.9 708.5h3.2M329.9 708.5h3.2M350.9 708.5h3.2M353.9 708.5h3.2M365.9 708.5h3.2M383.9 708.5h3.2M389.9 708.5h3.2M413.9 708.5h3.2M422.9 708.5h3.2M434.9 708.5h3.2M437.9 708.5h3.2M443.9 708.5h3.2M461.9 708.5h3.2M494.9 708.5h3.2M530.9 708.5h3.2M287.9 711.5h3.2M308.9 711.5h3.2M311.9 711.5h3.2M320.9 711.5h3.2M323.9 711.5h3.2M338.9 711.5h3.2M344.9 711.5h3.2M347.9 711.5h3.2M350.9 711.5h3.2M362.9 711.5h3.2M377.9 711.5h3.2M383.9 711.5h3.2M404.9 711.5h3.2M410.9 711.5h3.2M428.9 711.5h3.2M524.9 711.5h3.2M323.9 714.5h3.2M332.9 714.5h3.2M335.9 714.5h3.2M350.9 714.5h3.2M374.9 714.5h3.2M383.9 714.5h3.2M395.9 714.5h3.2M431.9 714.5h3.2M455.9 714.5h3.2M461.9 714.5h3.2M467.9 714.5h3.2M476.9 714.5h3.2M479.9 714.5h3.2M320.9 717.5h3.2M323.9 717.5h3.2M326.9 717.5h3.2M329.9 717.5h3.2M332.9 717.5h3.2M335.9 717.5h3.2M374.9 717.5h3.2M380.9 717.5h3.2M386.9 717.5h3.2M425.9 717.5h3.2M446.9 717.5h3.2M464.9 717.5h3.2M467.9 717.5h3.2M470.9 717.5h3.2M476.9 717.5h3.2M278.9 720.5h3.2M314.9 720.5h3.2M323.9 720.5h3.2M356.9 720.5h3.2M359.9 720.5h3.2M377.9 720.5h3.2M380.9 720.5h3.2M398.9 720.5h3.2M413.9 720.5h3.2M419.9 720.5h3.2M452.9 720.5h3.2M290.9 723.5h3.2M323.9 723.5h3.2M329.9 723.5h3.2M332.9 723.5h3.2M335.9 723.5h3.2M344.9 723.5h3.2M371.9 723.5h3.2M380.9 723.5h3.2M395.9 723.5h3.2M434.9 723.5h3.2M443.9 723.5h3.2M452.9 723.5h3.2M470.9 723.5h3.2M473.9 723.5h3.2M299.9 726.5h3.2M302.9 726.5h3.2M323.9 726.5h3.2M332.9 726.5h3.2M341.9 726.5h3.2M350.9 726.5h3.2M359.9 726.5h3.2M362.9 726.5h3.2M374.9 726.5h3.2M380.9 726.5h3.2M389.9 726.5h3.2M395.9 726.5h3.2M410.9 726.5h3.2M413.9 726.5h3.2M422.9 726.5h3.2M473.9 726.5h3.2M476.9 726.5h3.2M479.9 726.5h3.2M293.9 729.5h3.2M302.9 729.5h3.2M308.9 729.5h3.2M323.9 729.5h3.2M347.9 729.5h3.2M350.9 729.5h3.2M368.9 729.5h3.2M395.9 729.5h3.2M398.9 729.5h3.2M401.9 729.5h3.2M446.9 729.5h3.2M461.9 729.5h3.2M479.9 729.5h3.2M485.9 729.5h3.2M293.9 732.5h3.2M305.9 732.5h3.2M311.9 732.5h3.2M335.9 732.5h3.2M344.9 732.5h3.2M353.9 732.5h3.2M359.9 732.5h3.2M365.9 732.5h3.2M386.9 732.5h3.2M392.9 732.5h3.2M401.9 732.5h3.2M419.9 732.5h3.2M431.9 732.5h3.2M434.9 732.5h3.2M452.9 732.5h3.2M305.9 735.5h3.2M320.9 735.5h3.2M329.9 735.5h3.2M332.9 735.5h3.2M368.9 735.5h3.2M374.9 735.5h3.2M380.9 735.5h3.2M383.9 735.5h3.2M389.9 735.5h3.2M395.9 735.5h3.2M422.9 735.5h3.2M434.9 735.5h3.2M443.9 735.5h3.2M446.9 735.5h3.2M449.9 735.5h3.2M479.9 735.5h3.2M314.9 738.5h3.2M323.9 738.5h3.2M377.9 738.5h3.2M401.9 738.5h3.2M407.9 738.5h3.2M413.9 738.5h3.2M422.9 738.5h3.2M467.9 738.5h3.2M263.9 741.5h3.2M296.9 741.5h3.2M305.9 741.5h3.2M329.9 741.5h3.2M332.9 741.5h3.2M344.9 741.5h3.2M353.9 741.5h3.2M371.9 741.5h3.2M383.9 741.5h3.2M389.9 741.5h3.2M392.9 741.5h3.2M398.9 741.5h3.2M407.9 741.5h3.2M425.9 741.5h3.2M458.9 741.5h3.2M479.9 741.5h3.2M500.9 741.5h3.2M326.9 744.5h3.2M347.9 744.5h3.2M365.9 744.5h3.2M386.9 744.5h3.2M410.9 744.5h3.2M416.9 744.5h3.2M425.9 744.5h3.2M464.9 744.5h3.2M476.9 744.5h3.2M488.9 744.5h3.2M296.9 747.5h3.2M326.9 747.5h3.2M335.9 747.5h3.2M338.9 747.5h3.2M353.9 747.5h3.2M365.9 747.5h3.2M371.9 747.5h3.2M380.9 747.5h3.2M413.9 747.5h3.2M431.9 747.5h3.2M455.9 747.5h3.2M476.9 747.5h3.2M281.9 750.5h3.2M314.9 750.5h3.2M320.9 750.5h3.2M338.9 750.5h3.2M347.9 750.5h3.2M362.9 750.5h3.2M374.9 750.5h3.2M377.9 750.5h3.2M404.9 750.5h3.2M407.9 750.5h3.2M437.9 750.5h3.2M443.9 750.5h3.2M479.9 750.5h3.2M314.9 753.5h3.2M326.9 753.5h3.2M338.9 753.5h3.2M347.9 753.5h3.2M359.9 753.5h3.2M362.9 753.5h3.2M371.9 753.5h3.2M374.9 753.5h3.2M380.9 753.5h3.2M404.9 753.5h3.2M440.9 753.5h3.2M449.9 753.5h3.2M506.9 753.5h3.2M314.9 756.5h3.2M323.9 756.5h3.2M338.9 756.5h3.2M347.9 756.5h3.2M374.9 756.5h3.2M419.9 756.5h3.2M425.9 756.5h3.2M443.9 756.5h3.2M449.9 756.5h3.2M476.9 756.5h3.2M305.9 759.5h3.2M329.9 759.5h3.2M332.9 759.5h3.2M335.9 759.5h3.2M365.9 759.5h3.2M377.9 759.5h3.2M380.9 759.5h3.2M389.9 759.5h3.2M401.9 759.5h3.2M410.9 759.5h3.2M422.9 759.5h3.2M428.9 759.5h3.2M464.9 759.5h3.2M476.9 759.5h3.2M485.9 759.5h3.2M494.9 759.5h3.2M515.9 759.5h3.2M338.9 762.5h3.2M350.9 762.5h3.2M374.9 762.5h3.2M380.9 762.5h3.2M425.9 762.5h3.2M434.9 762.5h3.2M437.9 762.5h3.2M287.9 765.5h3.2M293.9 765.5h3.2M299.9 765.5h3.2M329.9 765.5h3.2M359.9 765.5h3.2M365.9 765.5h3.2M368.9 765.5h3.2M410.9 765.5h3.2M419.9 765.5h3.2M425.9 765.5h3.2M431.9 765.5h3.2M320.9 768.5h3.2M350.9 768.5h3.2M368.9 768.5h3.2M383.9 768.5h3.2M392.9 768.5h3.2M413.9 768.5h3.2M419.9 768.5h3.2M440.9 768.5h3.2M473.9 768.5h3.2M482.9 768.5h3.2M290.9 771.5h3.2M302.9 771.5h3.2M314.9 771.5h3.2M329.9 771.5h3.2M383.9 771.5h3.2M386.9 771.5h3.2M392.9 771.5h3.2M419.9 771.5h3.2M434.9 771.5h3.2M440.9 771.5h3.2M446.9 771.5h3.2M464.9 771.5h3.2M290.9 774.5h3.2M323.9 774.5h3.2M347.9 774.5h3.2M362.9 774.5h3.2M374.9 774.5h3.2M380.9 774.5h3.2M383.9 774.5h3.2M413.9 774.5h3.2M419.9 774.5h3.2M425.9 774.5h3.2M428.9 774.5h3.2M476.9 774.5h3.2M515.9 774.5h3.2M323.9 777.5h3.2M338.9 777.5h3.2M341.9 777.5h3.2M353.9 777.5h3.2M359.9 777.5h3.2M371.9 777.5h3.2M377.9 777.5h3.2M410.9 777.5h3.2M419.9 777.5h3.2M446.9 777.5h3.2M308.9 780.5h3.2M320.9 780.5h3.2M329.9 780.5h3.2M341.9 780.5h3.2M347.9 780.5h3.2M350.9 780.5h3.2M359.9 780.5h3.2M362.9 780.5h3.2M380.9 780.5h3.2M389.9 780.5h3.2M416.9 780.5h3.2M419.9 780.5h3.2M440.9 780.5h3.2M482.9 780.5h3.2M296.9 783.5h3.2M299.9 783.5h3.2M308.9 783.5h3.2M320.9 783.5h3.2M365.9 783.5h3.2M368.9 783.5h3.2M395.9 783.5h3.2M404.9 783.5h3.2M314.9 786.5h3.2M377.9 786.5h3.2M383.9 786.5h3.2M392.9 786.5h3.2M416.9 786.5h3.2M434.9 786.5h3.2M458.9 786.5h3.2M461.9 786.5h3.2M476.9 786.5h3.2M329.9 789.5h3.2M344.9 789.5h3.2M347.9 789.5h3.2M356.9 789.5h3.2M374.9 789.5h3.2M446.9 789.5h3.2M335.9 792.5h3.2M347.9 792.5h3.2M365.9 792.5h3.2M452.9 792.5h3.2M464.9 792.5h3.2M332.9 795.5h3.2M356.9 795.5h3.2M368.9 795.5h3.2M398.9 795.5h3.2M275.9 798.5h3.2M329.9 798.5h3.2M332.9 798.5h3.2M365.9 798.5h3.2M446.9 798.5h3.2M326.9 801.5h3.2M344.9 801.5h3.2M347.9 801.5h3.2M350.9 801.5h3.2M359.9 801.5h3.2M437.9 801.5h3.2M383.9 804.5h3.2M413.9 804.5h3.2M473.9 804.5h3.2M293.9 807.5h3.2M398.9 807.5h3.2M413.9 807.5h3.2M416.9 807.5h3.2M377.9 813.5h3.2M356.9 816.5h3.2M395.9 816.5h3.2M413.9 816.5h3.2M338.9 819.5h3.2M380.9 819.5h3.2M398.9 822.5h3.2M353.9 825.5h3.2M404.9 825.5h3.2M404.9 831.5h3.2M419.9 831.5h3.2" stroke="#00ff00" stroke-width="3.2"/>
<path d="M842.9 288.5h3.2M836.9 291.5h3.2M845.9 294.5h3.2M848.9 294.5h3.2M863.9 294.5h3.2M866.9 294.5h3.2M878.9 294.5h3.2M836.9 297.5h3.2M848.9 297.5h3.2M854.9 300.5h3.2M866.9 300.5h3.2M887.9 300.5h3.2M806.9 303.5h3.2M827.9 303.5h3.2M836.9 303.5h3.2M872.9 303.5h3.2M818.9 306.5h3.2M830.9 306.5h3.2M800.9 309.5h3.2M806.9 309.5h3.2M827.9 309.5h3.2M848.9 309.5h3.2M875.9 309.5h3.2M806.9 312.5h3.2M827.9 312.5h3.2M836.9 312.5h3.2M860.9 312.5h3.2M863.9 312.5h3.2M836.9 315.5h3.2M851.9 315.5h3.2M854.9 315.5h3.2M860.9 315.5h3.2M818.9 318.5h3.2M845.9 318.5h3.2M848.9 318.5h3.2M815.9 321.5h3.2M830.9 321.5h3.2M833.9 321.5h3.2M809.9 324.5h3.2M812.9 324.5h3.2M815.9 324.5h3.2M836.9 324.5h3.2M845.9 324.5h3.2M854.9 324.5h3.2M863.9 324.5h3.2M821.9 327.5h3.2M842.9 327.5h3.2M815.9 330.5h3.2M851.9 330.5h3.2M827.9 333.5h3.2M836.9 333.5h3.2M839.9 333.5h3.2M848.9 333.5h3.2M854.9 336.5h3.2M806.9 339.5h3.2M842.9 339.5h3.2M860.9 339.5h3.2M797.9 342.5h3.2M818.9 345.5h3.2M797.9 348.5h3.2M800.9 348.5h3.2M827.9 348.5h3.2M830.9 348.5h3.2M845.9 348.5h3.2M839.9 351.5h3.2M857.9 351.5h3.2M773.9 354.5h3.2M809.9 357.5h3.2M824.9 357.5h3.2M836.9 357.5h3.2M824.9 363.5h3.2M833.9 363.5h3.2M821.9 366.5h3.2M791.9 369.5h3.2M809.9 369.5h3.2M815.9 369.5h3.2M821.9 369.5h3.2M824.9 369.5h3.2M827.9 369.5h3.2M830.9 369.5h3.2M842.9 372.5h3.2M821.9 375.5h3.2M827.9 375.5h3.2M839.9 375.5h3.2M836.9 378.5h3.2M836.9 381.5h3.2M827.9 387.5h3.2M842.9 390.5h3.2M818.9 408.5h3.2M455.9 636.5h3.2M512.9 636.5h3.2M332.9 642.5h3.2M344.9 642.5h3.2M386.9 645.5h3.2M335.9 648.5h3.2M461.9 648.5h3.2M482.9 648.5h3.2M362.9 651.5h3.2M407.9 654.5h3.2M395.9 657.5h3.2M356.9 666.5h3.2M431.9 666.5h3.2M437.9 666.5h3.2M398.9 672.5h3.2M419.9 672.5h3.2M431.9 672.5h3.2M449.9 672.5h3.2M335.9 675.5h3.2M392.9 675.5h3.2M338.9 678.5h3.2M344.9 678.5h3.2M398.9 678.5h3.2M422.9 678.5h3.2M491.9 678.5h3.2M320.9 681.5h3.2M341.9 681.5h3.2M347.9 681.5h3.2M365.9 681.5h3.2M395.9 681.5h3.2M437.9 681.5h3.2M464.9 681.5h3.2M305.9 684.5h3.2M443.9 684.5h3.2M320.9 687.5h3.2M338.9 687.5h3.2M341.9 687.5h3.2M368.9 687.5h3.2M383.9 687.5h3.2M386.9 687.5h3.2M389.9 687.5h3.2M401.9 687.5h3.2M431.9 687.5h3.2M464.9 687.5h3.2M467.9 687.5h3.2M353.9 690.5h3.2M371.9 690.5h3.2M380.9 690.5h3.2M386.9 690.5h3.2M431.9 690.5h3.2M467.9 690.5h3.2M320.9 693.5h3.2M329.9 693.5h3.2M350.9 693.5h3.2M365.9 693.5h3.2M407.9 693.5h3.2M434.9 693.5h3.2M314.9 696.5h3.2M317.9 696.5h3.2M350.9 696.5h3.2M392.9 696.5h3.2M338.9 699.5h3.2M344.9 699.5h3.2M353.9 699.5h3.2M368.9 699.5h3.2M395.9 699.5h3.2M404.9 699.5h3.2M422.9 699.5h3.2M428.9 699.5h3.2M365.9 702.5h3.2M374.9 702.5h3.2M377.9 702.5h3.2M386.9 702.5h3.2M392.9 702.5h3.2M395.9 702.5h3.2M437.9 702.5h3.2M443.9 702.5h3.2M446.9 702.5h3.2M479.9 702.5h3.2M500.9 702.5h3.2M305.9 705.5h3.2M311.9 705.5h3.2M365.9 705.5h3.2M392.9 705.5h3.2M401.9 705.5h3.2M425.9 705.5h3.2M437.9 705.5h3.2M440.9 705.5h3.2M308.9 708.5h3.2M311.9 708.5h3.2M323.9 708.5h3.2M347.9 708.5h3.2M371.9 708.5h3.2M386.9 708.5h3.2M419.9 708.5h3.2M446.9 708.5h3.2M329.9 711.5h3.2M335.9 711.5h3.2M356.9 711.5h3.2M386.9 711.5h3.2M413.9 711.5h3.2M446.9 711.5h3.2M317.9 714.5h3.2M341.9 714.5h3.2M347.9 714.5h3.2M368.9 714.5h3.2M380.9 714.5h3.2M389.9 714.5h3.2M407.9 714.5h3.2M434.9 714.5h3.2M473.9 714.5h3.2M284.9 717.5h3.2M287.9 717.5h3.2M299.9 717.5h3.2M359.9 717.5h3.2M368.9 717.5h3.2M413.9 717.5h3.2M419.9 717.5h3.2M437.9 717.5h3.2M440.9 717.5h3.2M452.9 717.5h3.2M461.9 717.5h3.2M290.9 720.5h3.2M326.9 720.5h3.2M332.9 720.5h3.2M365.9 720.5h3.2M386.9 720.5h3.2M416.9 720.5h3.2M293.9 723.5h3.2M317.9 723.5h3.2M440.9 723.5h3.2M476.9 723.5h3.2M479.9 723.5h3.2M296.9 726.5h3.2M329.9 726.5h3.2M353.9 726.5h3.2M365.9 726.5h3.2M371.9 726.5h3.2M386.9 726.5h3.2M407.9 726.5h3.2M326.9 729.5h3.2M329.9 729.5h3.2M332.9 729.5h3.2M338.9 729.5h3.2M371.9 729.5h3.2M377.9 729.5h3.2M380.9 729.5h3.2M416.9 729.5h3.2M422.9 729.5h3.2M431.9 729.5h3.2M308.9 732.5h3.2M314.9 732.5h3.2M332.9 732.5h3.2M368.9 732.5h3.2M404.9 732.5h3.2M443.9 732.5h3.2M296.9 735.5h3.2M326.9 735.5h3.2M350.9 735.5h3.2M371.9 735.5h3.2M386.9 735.5h3.2M392.9 735.5h3.2M401.9 735.5h3.2M407.9 735.5h3.2M311.9 738.5h3.2M329.9 738.5h3.2M335.9 738.5h3.2M350.9 738.5h3.2M392.9 738.5h3.2M395.9 738.5h3.2M428.9 738.5h3.2M476.9 738.5h3.2M323.9 741.5h3.2M338.9 741.5h3.2M377.9 741.5h3.2M401.9 741.5h3.2M410.9 741.5h3.2M413.9 741.5h3.2M440.9 741.5h3.2M296.9 744.5h3.2M317.9 744.5h3.2M329.9 744.5h3.2M332.9 744.5h3.2M359.9 744.5h3.2M401.9 744.5h3.2M404.9 744.5h3.2M413.9 744.5h3.2M422.9 744.5h3.2M455.9 744.5h3.2M461.9 744.5h3.2M311.9 747.5h3.2M314.9 747.5h3.2M332.9 747.5h3.2M347.9 747.5h3.2M350.9 747.5h3.2M356.9 747.5h3.2M377.9 747.5h3.2M416.9 747.5h3.2M428.9 747.5h3.2M440.9 747.5h3.2M467.9 747.5h3.2M302.9 750.5h3.2M341.9 750.5h3.2M359.9 750.5h3.2M419.9 750.5h3.2M422.9 750.5h3.2M425.9 750.5h3.2M461.9 750.5h3.2M299.9 753.5h3.2M308.9 753.5h3.2M344.9 753.5h3.2M356.9 753.5h3.2M377.9 753.5h3.2M422.9 753.5h3.2M455.9 753.5h3.2M479.9 753.5h3.2M344.9 756.5h3.2M353.9 756.5h3.2M362.9 756.5h3.2M368.9 756.5h3.2M380.9 756.5h3.2M383.9 756.5h3.2M461.9 756.5h3.2M287.9 759.5h3.2M338.9 759.5h3.2M353.9 759.5h3.2M371.9 759.5h3.2M416.9 759.5h3.2M323.9 762.5h3.2M332.9 762.5h3.2M335.9 762.5h3.2M392.9 762.5h3.2M428.9 762.5h3.2M440.9 762.5h3.2M443.9 762.5h3.2M491.9 762.5h3.2M518.9 762.5h3.2M290.9 765.5h3.2M305.9 765.5h3.2M314.9 765.5h3.2M323.9 765.5h3.2M326.9 765.5h3.2M338.9 765.5h3.2M347.9 765.5h3.2M362.9 765.5h3.2M374.9 765.5h3.2M386.9 765.5h3.2M404.9 765.5h3.2M434.9 765.5h3.2M446.9 765.5h3.2M329.9 768.5h3.2M335.9 768.5h3.2M380.9 768.5h3.2M389.9 768.5h3.2M338.9 771.5h3.2M371.9 771.5h3.2M374.9 771.5h3.2M377.9 771.5h3.2M413.9 771.5h3.2M422.9 771.5h3.2M431.9 771.5h3.2M443.9 771.5h3.2M359.9 774.5h3.2M368.9 774.5h3.2M377.9 774.5h3.2M389.9 774.5h3.2M464.9 774.5h3.2M347.9 777.5h3.2M395.9 777.5h3.2M368.9 780.5h3.2M407.9 780.5h3.2M410.9 780.5h3.2M425.9 780.5h3.2M350.9 783.5h3.2M362.9 783.5h3.2M407.9 783.5h3.2M422.9 783.5h3.2M428.9 783.5h3.2M308.9 786.5h3.2M350.9 786.5h3.2M401.9 786.5h3.2M353.9 789.5h3.2M353.9 792.5h3.2M341.9 804.5h3.2M389.9 804.5h3.2M341.9 810.5h3.2M437.9 813.5h3.2M344.9 822.5h3.2M356.9 825.5h3.2" stroke="#ffff00" stroke-width="3.2"/>
<path d="M848.9 288.5h3.2M875.9 294.5h3.2M845.9 297.5h3.2M833.9 300.5h3.2M857.9 300.5h3.2M878.9 300.5h3.2M815.9 303.5h3.2M848.9 303.5h3.2M860.9 303.5h3.2M875.9 303.5h3.2M827.9 306.5h3.2M857.9 306.5h3.2M863.9 306.5h3.2M818.9 309.5h3.2M860.9 309.5h3.2M818.9 312.5h3.2M812.9 315.5h3.2M839.9 315.5h3.2M869.9 315.5h3.2M830.9 318.5h3.2M836.9 318.5h3.2M851.9 318.5h3.2M821.9 321.5h3.2M839.9 321.5h3.2M785.9 324.5h3.2M830.9 324.5h3.2M797.9 327.5h3.2M806.9 330.5h3.2M821.9 330.5h3.2M842.9 330.5h3.2M812.9 333.5h3.2M830.9 333.5h3.2M812.9 336.5h3.2M821.9 336.5h3.2M836.9 336.5h3.2M800.9 339.5h3.2M815.9 342.5h3.2M827.9 345.5h3.2M803.9 348.5h3.2M830.9 360.5h3.2M794.9 363.5h3.2M839.9 363.5h3.2M845.9 363.5h3.2M797.9 366.5h3.2M830.9 366.5h3.2M842.9 369.5h3.2M809.9 372.5h3.2M827.9 372.5h3.2M818.9 384.5h3.2M830.9 393.5h3.2M365.9 645.5h3.2M362.9 654.5h3.2M374.9 660.5h3.2M389.9 660.5h3.2M383.9 663.5h3.2M329.9 666.5h3.2M446.9 666.5h3.2M296.9 669.5h3.2M356.9 669.5h3.2M377.9 669.5h3.2M434.9 672.5h3.2M317.9 675.5h3.2M356.9 675.5h3.2M317.9 678.5h3.2M395.9 678.5h3.2M299.9 681.5h3.2M353.9 681.5h3.2M365.9 684.5h3.2M395.9 684.5h3.2M365.9 687.5h3.2M365.9 690.5h3.2M377.9 690.5h3.2M413.9 690.5h3.2M446.9 690.5h3.2M512.9 690.5h3.2M338.9 693.5h3.2M377.9 693.5h3.2M404.9 696.5h3.2M425.9 696.5h3.2M326.9 699.5h3.2M359.9 699.5h3.2M383.9 699.5h3.2M389.9 699.5h3.2M392.9 699.5h3.2M401.9 699.5h3.2M407.9 699.5h3.2M341.9 702.5h3.2M380.9 702.5h3.2M389.9 702.5h3.2M314.9 705.5h3.2M323.9 705.5h3.2M329.9 705.5h3.2M371.9 705.5h3.2M395.9 705.5h3.2M413.9 705.5h3.2M344.9 708.5h3.2M401.9 708.5h3.2M416.9 708.5h3.2M392.9 711.5h3.2M419.9 711.5h3.2M431.9 711.5h3.2M464.9 711.5h3.2M359.9 714.5h3.2M392.9 714.5h3.2M422.9 714.5h3.2M395.9 717.5h3.2M287.9 720.5h3.2M362.9 720.5h3.2M392.9 720.5h3.2M395.9 720.5h3.2M404.9 720.5h3.2M407.9 720.5h3.2M410.9 720.5h3.2M428.9 720.5h3.2M464.9 720.5h3.2M479.9 720.5h3.2M308.9 723.5h3.2M326.9 723.5h3.2M368.9 723.5h3.2M419.9 723.5h3.2M425.9 723.5h3.2M446.9 723.5h3.2M455.9 723.5h3.2M326.9 726.5h3.2M377.9 726.5h3.2M383.9 726.5h3.2M401.9 726.5h3.2M419.9 726.5h3.2M425.9 726.5h3.2M458.9 726.5h3.2M410.9 729.5h3.2M413.9 729.5h3.2M428.9 729.5h3.2M434.9 729.5h3.2M437.9 729.5h3.2M443.9 729.5h3.2M317.9 732.5h3.2M323.9 732.5h3.2M371.9 732.5h3.2M377.9 732.5h3.2M380.9 732.5h3.2M383.9 732.5h3.2M440.9 732.5h3.2M314.9 735.5h3.2M317.9 735.5h3.2M353.9 735.5h3.2M404.9 735.5h3.2M380.9 738.5h3.2M383.9 738.5h3.2M311.9 741.5h3.2M350.9 741.5h3.2M359.9 741.5h3.2M365.9 741.5h3.2M380.9 741.5h3.2M467.9 741.5h3.2M353.9 744.5h3.2M389.9 744.5h3.2M398.9 744.5h3.2M407.9 744.5h3.2M383.9 747.5h3.2M389.9 747.5h3.2M458.9 747.5h3.2M356.9 750.5h3.2M305.9 753.5h3.2M353.9 753.5h3.2M386.9 753.5h3.2M389.9 753.5h3.2M392.9 753.5h3.2M329.9 756.5h3.2M359.9 756.5h3.2M350.9 759.5h3.2M368.9 759.5h3.2M314.9 762.5h3.2M347.9 762.5h3.2M317.9 765.5h3.2M344.9 765.5h3.2M350.9 765.5h3.2M377.9 765.5h3.2M407.9 765.5h3.2M413.9 765.5h3.2M422.9 765.5h3.2M443.9 765.5h3.2M299.9 768.5h3.2M311.9 768.5h3.2M371.9 768.5h3.2M332.9 771.5h3.2M347.9 771.5h3.2M338.9 774.5h3.2M353.9 774.5h3.2M371.9 774.5h3.2M416.9 774.5h3.2M380.9 777.5h3.2M392.9 777.5h3.2M392.9 783.5h3.2M350.9 792.5h3.2M338.9 795.5h3.2M356.9 798.5h3.2M332.9 801.5h3.2" stroke="#ff9900" stroke-width="3.2"/>
<path d="M842.9 294.5h3.2M857.9 297.5h3.2M860.9 297.5h3.2M863.9 297.5h3.2M836.9 300.5h3.2M851.9 300.5h3.2M842.9 303.5h3.2M857.9 303.5h3.2M863.9 303.5h3.2M884.9 303.5h3.2M833.9 306.5h3.2M836.9 306.5h3.2M839.9 306.5h3.2M842.9 306.5h3.2M848.9 306.5h3.2M854.9 306.5h3.2M815.9 309.5h3.2M821.9 309.5h3.2M830.9 309.5h3.2M833.9 309.5h3.2M836.9 309.5h3.2M839.9 309.5h3.2M842.9 309.5h3.2M845.9 309.5h3.2M851.9 309.5h3.2M812.9 312.5h3.2M815.9 312.5h3.2M821.9 312.5h3.2M830.9 312.5h3.2M833.9 312.5h3.2M839.9 312.5h3.2M845.9 312.5h3.2M848.9 312.5h3.2M851.9 312.5h3.2M854.9 312.5h3.2M815.9 315.5h3.2M818.9 315.5h3.2M824.9 315.5h3.2M842.9 315.5h3.2M845.9 315.5h3.2M848.9 315.5h3.2M812.9 318.5h3.2M815.9 318.5h3.2M821.9 318.5h3.2M824.9 318.5h3.2M833.9 318.5h3.2M839.9 318.5h3.2M842.9 318.5h3.2M854.9 318.5h3.2M857.9 318.5h3.2M860.9 318.5h3.2M866.9 318.5h3.2M812.9 321.5h3.2M824.9 321.5h3.2M827.9 321.5h3.2M836.9 321.5h3.2M842.9 321.5h3.2M845.9 321.5h3.2M824.9 324.5h3.2M827.9 324.5h3.2M830.9 327.5h3.2M806.9 345.5h3.2M830.9 345.5h3.2M842.9 345.5h3.2M836.9 348.5h3.2M833.9 375.5h3.2M341.9 648.5h3.2M359.9 672.5h3.2M365.9 672.5h3.2M320.9 678.5h3.2M332.9 678.5h3.2M374.9 678.5h3.2M392.9 678.5h3.2M314.9 681.5h3.2M428.9 681.5h3.2M344.9 684.5h3.2M398.9 684.5h3.2M425.9 687.5h3.2M326.9 690.5h3.2M347.9 690.5h3.2M356.9 690.5h3.2M362.9 690.5h3.2M374.9 693.5h3.2M386.9 693.5h3.2M389.9 693.5h3.2M440.9 693.5h3.2M431.9 696.5h3.2M323.9 699.5h3.2M398.9 699.5h3.2M449.9 699.5h3.2M314.9 702.5h3.2M329.9 702.5h3.2M371.9 702.5h3.2M401.9 702.5h3.2M434.9 702.5h3.2M362.9 705.5h3.2M368.9 705.5h3.2M377.9 705.5h3.2M443.9 705.5h3.2M356.9 708.5h3.2M353.9 711.5h3.2M359.9 711.5h3.2M308.9 714.5h3.2M356.9 714.5h3.2M365.9 714.5h3.2M416.9 714.5h3.2M311.9 717.5h3.2M347.9 717.5h3.2M410.9 717.5h3.2M428.9 717.5h3.2M359.9 723.5h3.2M362.9 723.5h3.2M401.9 723.5h3.2M407.9 723.5h3.2M431.9 723.5h3.2M338.9 726.5h3.2M320.9 729.5h3.2M356.9 729.5h3.2M326.9 732.5h3.2M410.9 732.5h3.2M437.9 732.5h3.2M455.9 732.5h3.2M344.9 735.5h3.2M356.9 735.5h3.2M377.9 735.5h3.2M332.9 738.5h3.2M353.9 738.5h3.2M356.9 738.5h3.2M359.9 738.5h3.2M368.9 738.5h3.2M374.9 738.5h3.2M410.9 738.5h3.2M419.9 738.5h3.2M335.9 741.5h3.2M374.9 741.5h3.2M419.9 741.5h3.2M335.9 744.5h3.2M377.9 744.5h3.2M380.9 744.5h3.2M383.9 744.5h3.2M299.9 747.5h3.2M374.9 747.5h3.2M401.9 747.5h3.2M332.9 750.5h3.2M371.9 750.5h3.2M380.9 750.5h3.2M386.9 750.5h3.2M389.9 750.5h3.2M395.9 750.5h3.2M425.9 753.5h3.2M350.9 756.5h3.2M290.9 759.5h3.2M341.9 759.5h3.2M362.9 759.5h3.2M461.9 759.5h3.2M341.9 774.5h3.2M410.9 774.5h3.2M326.9 777.5h3.2M431.9 777.5h3.2M353.9 780.5h3.2" stroke="#ff0000" stroke-width="3.2"/>
</g>
<rect x="234.5" y="56.7" width="838.3" height="838.5" fill="none" stroke="#000" stroke-width="3.4"/>
<path d="M222.8 672.9H233.3" stroke="#000" stroke-width="3.0"/>
<path d="M222.8 636.0H233.3" stroke="#000" stroke-width="3.0"/>
<path d="M222.8 609.5H233.3" stroke="#000" stroke-width="3.0"/>
<path d="M217.3 587.4H233.3" stroke="#000" stroke-width="3.4"/>
<path d="M222.8 570.4H233.3" stroke="#000" stroke-width="3.0"/>
<path d="M222.8 556.5H233.3" stroke="#000" stroke-width="3.0"/>
<path d="M222.8 544.6H233.3" stroke="#000" stroke-width="3.0"/>
<path d="M222.8 534.1H233.3" stroke="#000" stroke-width="3.0"/>
<path d="M222.8 463.7H233.3" stroke="#000" stroke-width="3.0"/>
<path d="M222.8 428.5H233.3" stroke="#000" stroke-width="3.0"/>
<path d="M222.8 403.6H233.3" stroke="#000" stroke-width="3.0"/>
<path d="M217.3 384.3H233.3" stroke="#000" stroke-width="3.4"/>
<path d="M222.8 368.5H233.3" stroke="#000" stroke-width="3.0"/>
<path d="M222.8 355.2H233.3" stroke="#000" stroke-width="3.0"/>
<path d="M222.8 343.8H233.3" stroke="#000" stroke-width="3.0"/>
<path d="M222.8 333.8H233.3" stroke="#000" stroke-width="3.0"/>
<path d="M222.8 269.6H233.3" stroke="#000" stroke-width="3.0"/>
<path d="M222.8 236.2H233.3" stroke="#000" stroke-width="3.0"/>
<path d="M222.8 212.2H233.3" stroke="#000" stroke-width="3.0"/>
<path d="M217.3 193.5H233.3" stroke="#000" stroke-width="3.4"/>
<path d="M222.8 178.2H233.3" stroke="#000" stroke-width="3.0"/>
<path d="M222.8 165.1H233.3" stroke="#000" stroke-width="3.0"/>
<path d="M222.8 153.8H233.3" stroke="#000" stroke-width="3.0"/>
<path d="M222.8 144.0H233.3" stroke="#000" stroke-width="3.0"/>
<path d="M210.8 524.8H233.3" stroke="#000" stroke-width="4.6"/>
<path d="M210.8 325.0H233.3" stroke="#000" stroke-width="4.6"/>
<path d="M210.8 135.2H233.3" stroke="#000" stroke-width="4.6"/>
<path d="M222.8 79.0H233.3" stroke="#000" stroke-width="3.0"/>
<path d="M210.8 721.4H233.3" stroke="#000" stroke-width="4.6"/>
<path d="M210.8 851.2H233.3" stroke="#000" stroke-width="4.6"/>
<path d="M222.8 726.2H233.3" stroke="#000" stroke-width="3.0"/>
<path d="M222.8 730.7H233.3" stroke="#000" stroke-width="3.0"/>
<path d="M222.8 734.5H233.3" stroke="#000" stroke-width="3.0"/>
<path d="M222.8 737.8H233.3" stroke="#000" stroke-width="3.0"/>
<path d="M222.8 741.2H233.3" stroke="#000" stroke-width="3.0"/>
<path d="M222.8 745.0H233.3" stroke="#000" stroke-width="3.0"/>
<path d="M222.8 749.2H233.3" stroke="#000" stroke-width="3.0"/>
<path d="M222.8 758.2H233.3" stroke="#000" stroke-width="3.0"/>
<path d="M222.8 763.0H233.3" stroke="#000" stroke-width="3.0"/>
<path d="M222.8 768.0H233.3" stroke="#000" stroke-width="3.0"/>
<path d="M222.8 772.8H233.3" stroke="#000" stroke-width="3.0"/>
<path d="M222.8 798.8H233.3" stroke="#000" stroke-width="3.0"/>
<path d="M222.8 803.0H233.3" stroke="#000" stroke-width="3.0"/>
<path d="M222.8 808.6H233.3" stroke="#000" stroke-width="3.0"/>
<path d="M222.8 812.2H233.3" stroke="#000" stroke-width="3.0"/>
<path d="M222.8 816.4H233.3" stroke="#000" stroke-width="3.0"/>
<path d="M222.8 824.0H233.3" stroke="#000" stroke-width="3.0"/>
<path d="M222.8 828.2H233.3" stroke="#000" stroke-width="3.0"/>
<path d="M222.8 833.8H233.3" stroke="#000" stroke-width="3.0"/>
<path d="M222.8 839.0H233.3" stroke="#000" stroke-width="3.0"/>
<path d="M222.8 843.2H233.3" stroke="#000" stroke-width="3.0"/>
<path d="M217.3 754.0H233.3" stroke="#000" stroke-width="3.4"/>
<path d="M217.3 820.2H233.3" stroke="#000" stroke-width="3.4"/>
<path d="M213 778.5Q210 778.5 210 782V792Q210 795.5 213 795.5H233.3V778.5Z" fill="#000"/>
<path d="M443.6 894.0V906.0" stroke="#000" stroke-width="3.2"/>
<path d="M473.1 894.0V906.0" stroke="#000" stroke-width="3.2"/>
<path d="M499.3 894.0V906.0" stroke="#000" stroke-width="3.2"/>
<path d="M535.3 894.0V906.0" stroke="#000" stroke-width="3.2"/>
<path d="M551.8 894.0V906.0" stroke="#000" stroke-width="3.2"/>
<path d="M565.1 894.0V906.0" stroke="#000" stroke-width="3.2"/>
<path d="M577.5 894.0V906.0" stroke="#000" stroke-width="3.2"/>
<path d="M656.3 894.0V906.0" stroke="#000" stroke-width="3.2"/>
<path d="M692.5 894.0V906.0" stroke="#000" stroke-width="3.2"/>
<path d="M718.9 894.0V906.0" stroke="#000" stroke-width="3.2"/>
<path d="M754.8 894.0V906.0" stroke="#000" stroke-width="3.2"/>
<path d="M767.5 894.0V906.0" stroke="#000" stroke-width="3.2"/>
<path d="M777.8 894.0V906.0" stroke="#000" stroke-width="3.2"/>
<path d="M787.1 894.0V906.0" stroke="#000" stroke-width="3.2"/>
<path d="M856.5 894.0V906.0" stroke="#000" stroke-width="3.2"/>
<path d="M889.4 894.0V906.0" stroke="#000" stroke-width="3.2"/>
<path d="M914.0 894.0V906.0" stroke="#000" stroke-width="3.2"/>
<path d="M948.0 894.0V906.0" stroke="#000" stroke-width="3.2"/>
<path d="M959.8 894.0V906.0" stroke="#000" stroke-width="3.2"/>
<path d="M969.8 894.0V906.0" stroke="#000" stroke-width="3.2"/>
<path d="M979.0 894.0V906.0" stroke="#000" stroke-width="3.2"/>
<path d="M1046.8 894.0V906.0" stroke="#000" stroke-width="3.2"/>
<path d="M519.0 894.0V909.2" stroke="#000" stroke-width="3.4"/>
<path d="M738.4 894.0V909.2" stroke="#000" stroke-width="3.4"/>
<path d="M932.6 894.0V909.2" stroke="#000" stroke-width="3.4"/>
<path d="M585.8 894.0V916.0" stroke="#000" stroke-width="6.2"/>
<path d="M795.6 894.0V916.0" stroke="#000" stroke-width="6.2"/>
<path d="M989.4 894.0V916.0" stroke="#000" stroke-width="6.2"/>
<path d="M253.2 894.0V906.0" stroke="#000" stroke-width="3.2"/>
<path d="M280.4 894.0V906.0" stroke="#000" stroke-width="3.2"/>
<path d="M309.4 894.0V906.0" stroke="#000" stroke-width="3.2"/>
<path d="M337.2 895H412.6V906.3H412.6V916H406.6V906.3H396V910H393V906.3H380V916H367V906.3H360V910H357.5V906.3H343.8V916H337.2Z" fill="#000"/>
<rect x="382.8" y="897" width="3" height="10" fill="#fff"/>
<text x="138.74" y="155.75" font-size="30.65" textLength="35.25" lengthAdjust="spacingAndGlyphs" stroke="#000" stroke-width="0.7">10</text>
<text x="175.81" y="132.95" font-size="30.53" textLength="18.65" lengthAdjust="spacingAndGlyphs" stroke="#000" stroke-width="0.7">5</text>
<text x="138.74" y="345.75" font-size="30.65" textLength="35.25" lengthAdjust="spacingAndGlyphs" stroke="#000" stroke-width="0.7">10</text>
<text x="176.31" y="322.85" font-size="30.96" textLength="20.31" lengthAdjust="spacingAndGlyphs" stroke="#000" stroke-width="0.7">4</text>
<text x="138.74" y="545.75" font-size="30.65" textLength="35.25" lengthAdjust="spacingAndGlyphs" stroke="#000" stroke-width="0.7">10</text>
<text x="175.87" y="522.55" font-size="30.65" textLength="18.65" lengthAdjust="spacingAndGlyphs" stroke="#000" stroke-width="0.7">3</text>
<text x="155.87" y="797.56" font-size="29.94" textLength="18.27" lengthAdjust="spacingAndGlyphs" stroke="#000" stroke-width="0.7">0</text>
<text x="378.23" y="971.47" font-size="29.1" textLength="18.85" lengthAdjust="spacingAndGlyphs" stroke="#000" stroke-width="0.7">0</text>
<text x="583.97" y="971.55" font-size="30.65" textLength="36.26" lengthAdjust="spacingAndGlyphs" stroke="#000" stroke-width="0.7">10</text>
<text x="621.27" y="948.35" font-size="30.65" textLength="18.65" lengthAdjust="spacingAndGlyphs" stroke="#000" stroke-width="0.7">3</text>
<text x="794.15" y="971.35" font-size="30.37" textLength="35.03" lengthAdjust="spacingAndGlyphs" stroke="#000" stroke-width="0.7">10</text>
<text x="831.72" y="948.55" font-size="30.96" textLength="20.09" lengthAdjust="spacingAndGlyphs" stroke="#000" stroke-width="0.7">4</text>
<text x="987.33" y="971.05" font-size="30.65" textLength="35.36" lengthAdjust="spacingAndGlyphs" stroke="#000" stroke-width="0.7">10</text>
<text x="1024.11" y="948.25" font-size="30.53" textLength="18.65" lengthAdjust="spacingAndGlyphs" stroke="#000" stroke-width="0.7">5</text>
<text transform="translate(307.07 1057.2) scale(0.9 1)" x="0" y="0" font-size="46.5" letter-spacing="2.471">BD Horizon™ R718 TCR β Chain</text>
<text transform="translate(62.8 791.7) rotate(-90)" x="0" y="0" font-size="48.5" textLength="642.6" lengthAdjust="spacingAndGlyphs">Alexa Fluor™ 488 CD4 + CD8</text>
</svg>
</body></html>
